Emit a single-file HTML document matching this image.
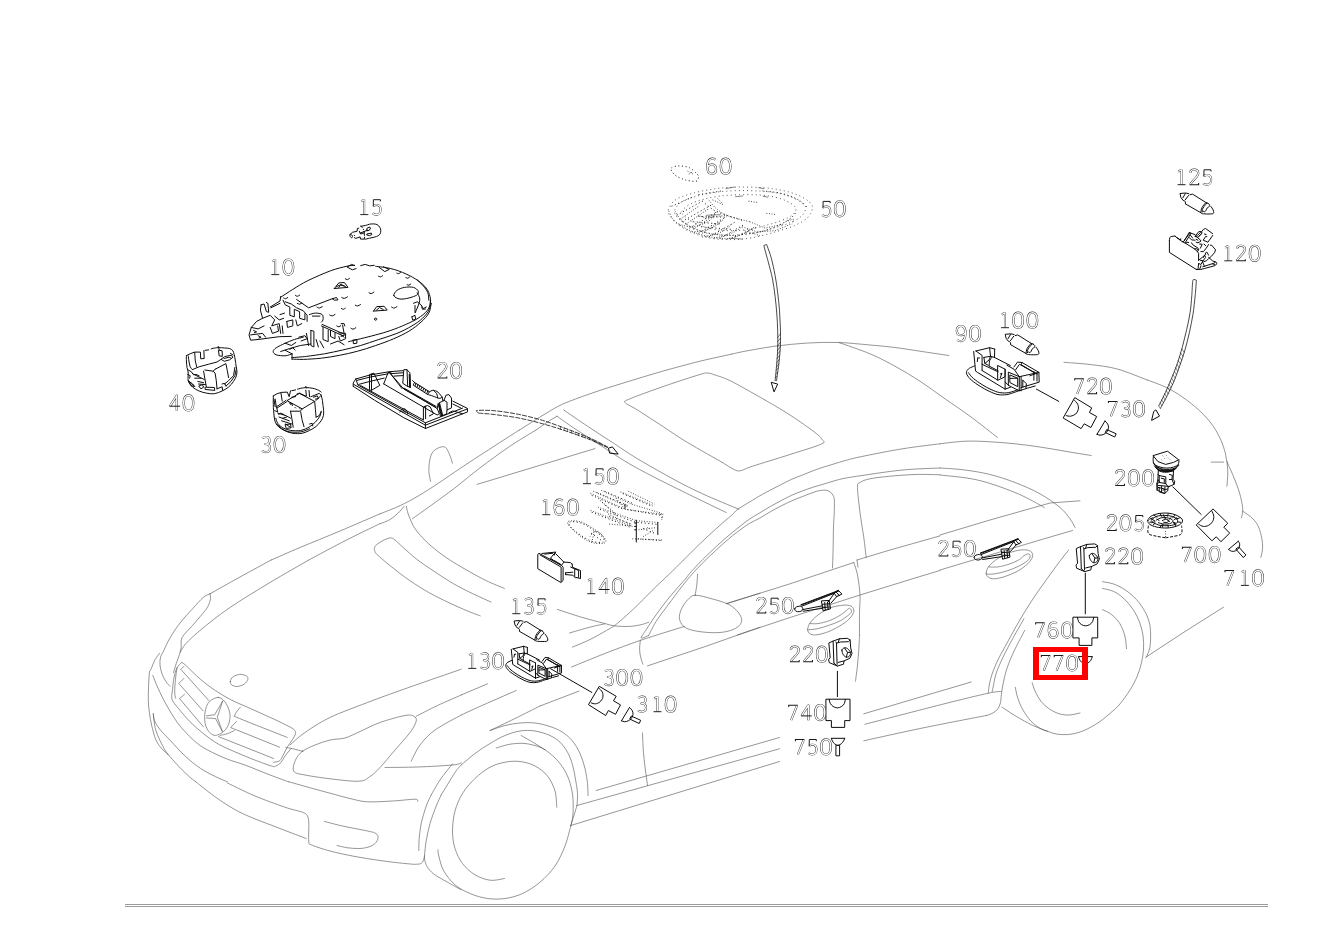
<!DOCTYPE html>
<html lang="en"><head><meta charset="utf-8"><title>Interior lights - parts diagram</title>
<style>
html,body{margin:0;padding:0;background:#fff;}
body{width:1326px;height:941px;overflow:hidden;font-family:"Liberation Sans",sans-serif;}
svg{display:block;position:absolute;left:0;top:0;}
.car{fill:none;stroke:#555;stroke-width:0.62;stroke-linecap:round;stroke-linejoin:round;}
.part{fill:none;stroke:#0c0c0c;stroke-width:1.0;stroke-linecap:round;stroke-linejoin:round;}
.partw{fill:#fff;stroke:#1c1c1c;stroke-width:0.9;stroke-linejoin:round;}
.thin{fill:none;stroke:#333;stroke-width:0.6;stroke-linecap:round;stroke-linejoin:round;}
.dot{fill:none;stroke:#222;stroke-width:0.9;stroke-dasharray:0.9 1.7;stroke-linecap:butt;}
.arr{fill:none;stroke:#0c0c0c;stroke-width:0.8;stroke-dasharray:5 1.2;}
.arrs{fill:none;stroke:#0c0c0c;stroke-width:0.75;}
.dot3{fill:none;stroke:#333;stroke-width:0.9;stroke-dasharray:0.9 3.2;}
.dot2{fill:none;stroke:#111;stroke-width:1.0;stroke-dasharray:1 2.6;}
.dash{fill:none;stroke:#0c0c0c;stroke-width:1.0;stroke-dasharray:3 1.5;}
.lead{fill:none;stroke:#222;stroke-width:0.9;}
.ho{fill:none;stroke:#1a1a1a;stroke-width:2.0;stroke-linecap:butt;stroke-linejoin:round;}
.hi{fill:none;stroke:#fff;stroke-width:1.3;stroke-linecap:butt;stroke-linejoin:round;}
.sd{fill:none;stroke:#1a1a1a;stroke-width:1.0;stroke-linecap:square;stroke-linejoin:miter;}
.dgo{fill:none;stroke:#555;stroke-width:2.3;stroke-linecap:square;stroke-linejoin:miter;}
.dgi{fill:none;stroke:#fff;stroke-width:1.25;stroke-linecap:square;stroke-linejoin:miter;}
</style></head><body>
<svg width="1326" height="941" viewBox="0 0 1326 941">
<rect x="0" y="0" width="1326" height="941" fill="#fff"/>
<g class="car">
<path d="M271.2,560.0 C266.0,562.8 250.2,571.4 240.0,577.0 C229.8,582.6 215.0,591.0 210.0,593.8"/>
<path d="M210.0,593.8 C210.1,594.6 210.8,596.7 210.5,598.8 C210.2,600.8 209.3,603.8 208.0,606.2 C206.7,608.8 205.1,610.5 202.5,613.8 C199.9,617.0 195.6,622.0 192.5,625.5 C189.4,629.0 185.6,632.5 183.8,635.0 C181.9,637.5 181.7,638.4 181.2,640.5 C180.8,642.6 181.5,645.6 181.2,647.5 C181.0,649.4 180.2,651.2 180.0,652.0"/>
<path d="M210.0,593.8 C208.9,594.4 206.2,595.0 203.2,597.5 C200.3,600.0 196.4,604.5 192.5,608.8 C188.6,613.0 183.8,618.1 180.0,623.0 C176.2,627.9 172.7,633.4 170.0,638.0 C167.3,642.6 165.3,647.2 163.8,650.5 C162.2,653.8 161.1,655.1 160.5,657.5 C159.9,659.9 159.8,662.3 160.0,665.0 C160.2,667.7 161.0,670.9 162.0,673.8 C163.0,676.6 164.9,679.9 166.2,682.0 C167.6,684.1 169.4,685.5 170.0,686.2"/>
<path d="M308.8,560.0 C302.3,563.8 283.1,574.6 270.0,582.5 C256.9,590.4 241.7,599.5 230.0,607.5 C218.3,615.5 207.7,624.0 200.0,630.5 C192.3,637.0 187.5,641.3 183.8,646.2 C180.0,651.2 179.2,655.6 177.5,660.0 C175.8,664.4 174.2,670.4 173.5,672.5"/>
<path d="M302.5,751.2 C299.2,753.8 297.0,756.7 295.5,760.0 C294.0,763.3 292.2,768.8 293.8,771.2 C295.3,773.8 299.0,773.8 305.0,775.0 C311.0,776.2 321.0,777.7 330.0,778.8 C339.0,779.8 352.1,781.6 358.8,781.2 C365.4,780.9 366.5,778.8 370.0,776.5 C373.5,774.2 375.8,771.9 380.0,767.5 C384.2,763.1 390.0,755.8 395.0,750.0 C400.0,744.2 406.5,737.3 410.0,732.5 C413.5,727.7 415.6,724.0 416.2,721.2 C416.9,718.5 415.6,717.2 413.8,716.2 C411.9,715.3 410.6,714.5 405.0,715.5 C399.4,716.5 387.5,719.8 380.0,722.5 C372.5,725.2 365.8,728.9 360.0,731.5 C354.2,734.1 350.0,736.6 345.0,738.0 C340.0,739.4 335.0,738.8 330.0,740.0 C325.0,741.2 319.6,743.1 315.0,745.0 C310.4,746.9 305.8,748.8 302.5,751.2Z"/>
<path d="M290.0,745.0 C292.5,742.9 298.3,737.1 305.0,732.5 C311.7,727.9 319.6,722.5 330.0,717.5 C340.4,712.5 355.0,707.3 367.5,702.5 C380.0,697.7 389.4,694.3 405.0,688.8 C420.6,683.2 451.9,672.5 461.2,669.2"/>
<path d="M416.2,716.2 C419.8,714.5 430.0,709.0 437.5,705.5 C445.0,702.0 457.3,696.8 461.2,695.0"/>
<path d="M411.2,761.2 C412.7,758.5 416.0,750.2 420.0,745.0 C424.0,739.8 428.1,735.0 435.0,730.0 C441.9,725.0 456.9,717.5 461.2,715.0"/>
<path d="M385.0,767.5 C390.4,767.4 406.2,767.4 417.5,767.0 C428.8,766.6 445.2,765.7 452.5,765.0 C459.8,764.3 459.8,763.3 461.2,763.0"/>
<path d="M431.2,795.0 C432.7,792.5 436.5,785.2 440.0,780.0 C443.5,774.8 450.4,766.5 452.5,763.8"/>
<path d="M441.2,795.0 C443.5,791.2 451.7,777.5 455.0,772.5 C458.3,767.5 460.2,766.2 461.2,765.0"/>
<path d="M181.5,662.6 C182.1,663.0 182.1,662.1 185.3,664.9 C188.4,667.7 195.3,675.0 200.4,679.2 C205.4,683.5 210.4,687.2 215.5,690.6 C220.5,694.0 225.5,697.0 230.6,699.6 C235.6,702.3 240.6,704.2 245.7,706.4 C250.7,708.7 255.7,710.9 260.8,713.2 C265.8,715.5 270.8,717.6 275.8,720.0 C280.9,722.4 287.8,725.8 290.9,727.5 C294.1,729.3 294.0,729.6 294.7,730.6 C295.5,731.6 295.8,732.1 295.5,733.6 C295.1,735.1 293.8,737.4 292.5,739.6 C291.1,741.9 288.7,744.7 287.2,747.2 C285.7,749.7 284.7,752.5 283.4,754.7 C282.1,757.0 281.3,759.5 279.6,760.8 C278.0,762.0 274.6,762.0 273.6,762.3"/>
<path d="M181.5,662.6 C180.8,663.5 178.2,665.4 177.0,667.9 C175.7,670.4 174.7,674.1 174.0,677.7 C173.2,681.4 172.8,686.5 172.5,689.8 C172.1,693.1 171.5,695.3 171.7,697.4 C171.9,699.4 172.3,700.2 173.5,702.2 C174.8,704.2 176.5,706.2 179.2,709.4 C182.0,712.7 185.8,717.5 189.8,721.5 C193.8,725.5 198.6,729.8 203.4,733.6 C208.2,737.4 212.7,740.9 218.5,744.2 C224.3,747.4 232.1,750.6 238.1,753.2 C244.2,755.8 249.2,757.9 254.7,760.0 C260.3,762.1 267.8,765.0 271.3,766.0 C274.8,767.0 274.2,766.7 275.8,766.0 C277.5,765.4 279.6,763.9 281.1,762.3 C282.6,760.6 283.3,758.5 284.9,756.2 C286.5,754.0 289.9,749.9 290.9,748.7"/>
<path d="M177.0,667.9 C176.7,669.8 175.8,675.3 175.5,679.2 C175.1,683.1 174.7,688.2 174.7,691.3 C174.7,694.5 175.3,697.0 175.5,698.1"/>
<path d="M183.8,666.4 L180.8,669.4 L208.7,700.4"/>
<path d="M183.8,678.5 L178.8,683.5 L203.1,710.9"/>
<path d="M184.5,694.3 L179.5,698.6 L203.4,726.8"/>
<path d="M240.4,707.2 C239.4,708.5 234.9,713.3 234.8,715.2 C234.7,717.1 230.9,714.8 239.6,718.5 C248.4,722.2 279.2,734.2 287.2,737.4"/>
<path d="M236.6,721.5 L230.6,727.5 L279.6,747.2"/>
<path d="M218.5,736.6 L273.6,758.5"/>
<path d="M220.0,735.4 C221.3,735.1 225.2,734.4 227.5,733.6 C229.9,732.8 233.2,731.1 234.3,730.6"/>
<path d="M218.2,697.4 C221.2,697.4 224.1,700.3 226.0,703.4 C228.0,706.5 230.1,711.9 230.1,716.2 C230.1,720.5 228.5,725.9 226.0,729.1 C223.5,732.3 218.3,735.4 215.2,735.4 C212.0,735.4 208.9,732.1 207.2,729.1 C205.4,726.0 204.5,721.3 204.6,717.0 C204.7,712.7 205.7,706.7 207.9,703.4 C210.2,700.1 215.2,697.4 218.2,697.4Z"/>
<path d="M222.7,701.1 L214.7,714.7 L206.4,715.9"/>
<path d="M222.7,701.1 L217.3,717.3 L222.3,731.3"/>
<path d="M206.4,718.0 L215.5,718.5 L222.3,731.3"/>
<path d="M230.3,681.5 C230.4,680.2 231.3,678.2 232.8,677.0 C234.4,675.8 237.4,674.6 239.6,674.4 C241.9,674.2 245.1,675.1 246.4,675.9 C247.8,676.8 248.2,678.2 247.8,679.5 C247.4,680.9 245.9,682.9 244.2,684.1 C242.4,685.2 239.4,686.3 237.4,686.5 C235.3,686.6 233.0,685.8 231.8,685.0 C230.6,684.2 230.1,682.8 230.3,681.5Z"/>
<path d="M285.7,747.5 C286.8,747.7 289.6,748.0 292.5,748.7 C295.3,749.3 301.3,750.9 303.0,751.4"/>
<path d="M159.6,653.3 C158.9,654.3 156.6,656.9 155.1,659.6 C153.6,662.3 151.8,667.4 150.9,669.4 C149.9,671.5 149.9,669.4 149.5,672.0 C149.1,674.6 148.8,680.6 148.6,685.3 C148.4,690.0 148.2,695.8 148.3,700.4 C148.4,704.9 148.8,708.2 149.4,712.5 C149.9,716.7 150.7,721.5 151.8,726.0 C152.9,730.6 154.3,736.0 155.8,739.6 C157.4,743.3 159.1,745.5 161.1,747.9 C163.1,750.4 166.8,753.2 167.9,754.3"/>
<path d="M152.8,675.5 C153.7,677.6 155.8,683.4 158.1,688.3 C160.4,693.2 163.1,699.1 166.4,704.9 C169.7,710.7 173.8,717.7 177.7,723.0 C181.6,728.3 186.0,732.8 189.8,736.6 C193.6,740.4 196.6,743.0 200.4,745.7 C204.2,748.3 207.9,750.2 212.5,752.5 C217.0,754.7 222.0,757.1 227.5,759.2 C233.1,761.4 238.9,762.8 245.7,765.3 C252.5,767.8 261.1,771.6 268.3,774.3 C275.5,777.1 285.3,780.6 288.7,781.9"/>
<path d="M153.3,713.7 C153.5,714.7 153.3,717.4 154.3,720.0 C155.4,722.6 157.0,725.7 159.6,729.1 C162.3,732.5 165.9,735.8 170.2,740.4 C174.5,744.9 180.3,751.6 185.3,756.2 C190.3,760.9 195.3,764.9 200.4,768.3 C205.4,771.7 210.9,774.3 215.5,776.6 C220.0,778.9 225.5,781.0 227.5,781.9"/>
<path d="M153.3,713.7 C153.6,716.0 154.2,723.5 155.1,727.5 C156.0,731.6 157.4,734.6 158.9,738.1 C160.4,741.6 162.6,746.0 164.2,748.7 C165.7,751.4 167.3,753.3 167.9,754.3"/>
<path d="M167.9,754.3 C169.6,756.1 174.3,761.7 177.7,765.3 C181.1,768.9 185.3,773.1 188.3,775.8 C191.3,778.6 194.6,780.9 195.8,781.9"/>
<path d="M288.8,781.8 C293.5,783.1 307.3,787.0 317.5,789.8 C327.7,792.5 341.7,796.5 350.0,798.5 C358.3,800.5 360.4,801.3 367.5,801.8 C374.6,802.2 384.6,801.4 392.5,801.0 C400.4,800.6 410.8,799.2 415.0,799.2 C419.2,799.3 417.1,801.1 417.5,801.5"/>
<path d="M227.5,783.0 C232.1,785.2 245.4,792.0 255.0,796.0 C264.6,800.0 277.1,804.5 285.0,807.2 C292.9,810.0 298.8,810.8 302.5,812.2 C306.2,813.7 306.5,814.1 307.5,816.0 C308.5,817.9 308.5,819.3 308.8,823.5 C309.0,827.7 308.3,837.5 308.8,841.0 C309.2,844.5 307.7,843.1 311.2,844.8 C314.8,846.4 322.7,849.0 330.0,851.0 C337.3,853.0 346.7,854.9 355.0,856.5 C363.3,858.1 371.7,859.3 380.0,860.5 C388.3,861.7 398.8,862.9 405.0,863.5 C411.2,864.1 414.6,864.5 417.5,864.2 C420.4,864.0 421.3,863.6 422.5,862.2 C423.7,860.9 424.2,857.0 424.5,856.0"/>
<path d="M195.8,781.8 C199.4,784.5 209.7,793.2 217.5,798.5 C225.3,803.8 232.1,808.5 242.5,813.5 C252.9,818.5 269.4,824.3 280.0,828.5 C290.6,832.7 301.9,836.8 306.2,838.5"/>
<path d="M324.5,821.5 C327.5,822.2 335.3,824.4 342.5,826.0 C349.7,827.6 362.1,829.8 367.5,831.0 C372.9,832.2 373.2,832.1 375.0,833.0 C376.8,833.9 377.8,835.0 378.0,836.5 C378.2,838.0 377.6,840.6 376.2,842.2 C374.9,843.9 372.7,845.5 370.0,846.5 C367.3,847.5 363.8,848.3 360.0,848.5 C356.2,848.7 351.3,848.2 347.5,847.8 C343.7,847.2 338.8,845.9 337.0,845.5"/>
<path d="M431.2,795.0 C430.4,796.8 427.9,801.2 426.2,806.0 C424.6,810.8 422.4,818.1 421.2,823.5 C420.1,828.9 419.7,834.0 419.2,838.5 C418.8,843.0 418.8,848.5 418.8,850.5"/>
<path d="M441.2,795.0 C440.4,796.8 438.1,801.2 436.2,806.0 C434.4,810.8 431.7,817.7 430.0,823.5 C428.3,829.3 427.2,835.6 426.2,841.0 C425.3,846.4 424.7,852.7 424.5,856.0 C424.3,859.3 424.5,859.1 425.0,861.0 C425.5,862.9 426.0,865.1 427.5,867.2 C429.0,869.4 430.4,871.5 433.8,874.0 C437.1,876.5 442.9,879.6 447.5,882.2 C452.1,884.9 459.0,888.5 461.2,889.8"/>
<path d="M271.2,560.0 C276.0,557.9 288.5,552.3 300.0,547.5 C311.5,542.7 326.7,536.6 340.0,531.0 C353.3,525.4 373.3,516.7 380.0,513.8"/>
<path d="M308.8,560.0 C313.1,557.7 326.5,550.5 335.0,546.0 C343.5,541.5 352.5,537.0 360.0,533.3 C367.5,529.6 376.7,525.3 380.0,523.7"/>
<path d="M461.2,695.0 L487.5,683.8"/>
<path d="M461.2,715.0 C464.0,713.8 468.3,711.6 477.5,707.5 C486.7,703.4 509.8,693.3 516.2,690.5"/>
<path d="M380.0,513.8 C382.8,512.7 391.1,509.6 396.6,507.2 C402.1,504.7 406.8,502.5 413.2,498.9 C419.5,495.3 426.5,491.0 434.8,485.6 C443.0,480.2 452.7,473.3 463.0,466.5 C473.2,459.7 486.7,451.0 496.1,444.9 C505.5,438.8 515.5,432.5 519.4,430.0"/>
<path d="M380.0,523.7 C381.7,523.1 386.9,521.4 390.0,519.6 C393.0,517.8 395.9,515.2 398.3,513.0 C400.6,510.7 403.1,507.4 404.1,506.3"/>
<path d="M412.4,518.8 C415.3,516.7 422.7,511.4 429.8,506.3 C436.8,501.2 446.4,494.4 454.7,488.1 C463.0,481.7 470.4,475.1 479.6,468.2 C488.7,461.2 500.0,453.0 509.4,446.6 C518.8,440.2 531.5,432.8 536.0,430.0"/>
<path d="M430.6,481.4 C430.3,479.8 429.1,475.1 428.9,471.5 C428.8,467.9 429.1,463.2 429.8,459.9 C430.5,456.5 431.4,453.6 433.1,451.6 C434.8,449.5 437.7,448.1 439.7,447.4 C441.8,446.7 443.9,446.2 445.5,447.4 C447.2,448.7 448.5,452.3 449.7,454.9 C450.8,457.5 452.0,461.8 452.5,463.2"/>
<path d="M477.1,484.4 L594.9,448.6"/>
<path d="M557.4,609.4 C561.4,610.7 573.9,615.0 581.5,617.2 C589.1,619.5 597.5,621.6 603.0,623.0 C608.6,624.5 610.2,625.3 614.7,625.9 C619.1,626.4 625.2,626.6 629.6,626.4 C634.0,626.2 638.0,625.4 641.2,624.7 C644.4,624.0 647.4,622.6 648.7,622.2"/>
<path d="M569.5,633.0 C572.9,632.0 583.9,628.7 589.8,627.2 C595.6,625.7 602.2,624.4 604.7,623.9"/>
<path d="M572.4,647.1 C575.3,645.9 584.1,642.4 589.8,639.6 C595.4,636.9 602.2,632.9 606.4,630.5 C610.5,628.2 611.3,628.0 614.7,625.5 C618.0,623.0 622.1,619.3 626.3,615.6 C630.4,611.9 634.6,608.0 639.6,603.1 C644.5,598.3 650.6,591.9 656.1,586.5 C661.7,581.2 668.2,575.2 672.7,570.8 C677.3,566.4 681.7,561.8 683.5,560.0"/>
<path d="M648.7,635.5 C647.4,635.9 641.6,639.0 641.2,638.0 C640.8,637.0 643.7,633.6 646.2,629.7 C648.7,625.8 652.3,620.1 656.1,614.8 C660.0,609.4 664.4,603.4 669.4,597.3 C674.4,591.2 683.2,581.4 686.0,578.3"/>
<path d="M648.7,635.5 C649.9,633.1 652.7,626.8 656.1,621.4 C659.6,616.0 667.2,606.2 669.4,603.1"/>
<path d="M571.5,667.0 C577.3,664.7 594.8,657.4 606.4,652.9 C618.0,648.4 628.2,644.6 641.2,640.1 C654.2,635.7 677.2,628.7 684.4,626.4"/>
<path d="M640.4,640.1 C640.2,641.7 639.5,646.6 639.6,649.6 C639.6,652.6 640.3,655.5 640.9,657.9 C641.4,660.3 642.5,663.1 642.9,664.2"/>
<path d="M647.5,665.9 L705.9,646.3 L760.0,627.2"/>
<path d="M695.1,595.2 C691.0,595.3 689.9,597.7 687.7,599.8 C685.5,602.0 683.2,605.4 681.9,608.1 C680.5,610.9 679.5,613.9 679.4,616.4 C679.2,618.9 679.9,621.1 681.0,623.0 C682.1,625.0 683.2,626.6 686.0,628.0 C688.8,629.4 692.9,630.6 697.6,631.3 C702.3,632.1 709.2,632.7 714.2,632.7 C719.2,632.7 723.6,632.3 727.5,631.3 C731.4,630.4 735.1,628.9 737.4,627.2 C739.8,625.5 741.2,623.5 741.6,621.4 C742.0,619.3 741.2,617.0 739.9,614.8 C738.7,612.5 736.3,610.0 734.1,608.1 C731.9,606.2 730.3,605.0 726.7,603.5 C723.1,602.0 717.8,600.4 712.6,599.0 C707.3,597.6 699.3,595.0 695.1,595.2Z"/>
<path d="M697.6,574.1 C697.5,575.9 697.2,581.4 696.8,584.9 C696.4,588.4 695.4,593.5 695.1,595.2"/>
<path d="M726.7,603.5 L760.0,593.2"/>
<path d="M540.0,706.0 L579.0,691.1"/>
<path d="M406.3,506.2 C406.6,507.4 407.2,511.1 408.0,513.4 C408.7,515.7 409.5,517.5 410.6,520.0 C411.7,522.5 412.7,525.3 414.8,528.3 C416.8,531.3 419.7,534.8 423.0,538.3 C426.4,541.7 430.2,545.4 434.7,549.0 C439.1,552.6 444.3,556.4 449.6,559.8 C454.9,563.3 460.1,566.3 466.2,569.8 C472.3,573.2 479.7,577.5 486.1,580.6 C492.5,583.7 501.3,587.1 504.4,588.4"/>
<path d="M491.1,602.1 C486.9,600.2 473.1,594.0 466.2,590.5 C459.3,587.1 455.1,584.7 449.6,581.4 C444.1,578.1 438.5,574.3 433.0,570.6 C427.5,566.9 421.4,562.9 416.4,559.0 C411.4,555.1 406.7,550.6 403.1,547.4 C399.5,544.2 396.9,541.5 394.8,539.9 C392.8,538.3 392.4,538.0 390.7,537.9 C389.0,537.9 387.1,538.6 384.9,539.6 C382.7,540.6 379.1,542.8 377.4,544.1 C375.7,545.4 375.0,546.1 374.6,547.4 C374.2,548.6 374.3,550.1 374.9,551.5 C375.5,552.9 375.2,552.9 378.3,555.7 C381.3,558.4 387.9,564.0 393.2,568.1 C398.4,572.3 403.7,576.4 409.8,580.6 C415.9,584.7 423.0,589.3 429.7,593.0 C436.3,596.7 443.5,600.1 449.6,603.0 C455.7,605.9 461.1,608.3 466.2,610.4 C471.3,612.6 477.9,615.0 480.3,615.9"/>
<path d="M940.0,443.8 C944.2,443.3 956.7,441.6 965.0,441.2 C973.3,440.9 981.7,441.3 990.0,441.8 C998.3,442.2 1006.7,442.9 1015.0,443.8 C1023.3,444.6 1031.7,445.8 1040.0,447.0 C1048.3,448.2 1056.5,449.8 1065.0,451.2 C1073.5,452.7 1086.9,454.8 1091.2,455.5"/>
<path d="M940.0,468.0 C944.2,468.3 956.7,468.9 965.0,470.0 C973.3,471.1 981.7,472.4 990.0,474.5 C998.3,476.6 1006.7,479.3 1015.0,482.5 C1023.3,485.7 1032.5,489.6 1040.0,493.8 C1047.5,497.9 1055.0,503.3 1060.0,507.5 C1065.0,511.7 1067.5,515.4 1070.0,518.8 C1072.5,522.1 1074.2,526.0 1075.0,527.5"/>
<path d="M940.0,475.0 C946.2,475.8 965.0,477.1 977.5,480.0 C990.0,482.9 1004.6,488.3 1015.0,492.5 C1025.4,496.7 1035.1,502.4 1040.0,505.0 C1044.9,507.6 1043.8,507.5 1044.5,508.0"/>
<path d="M940.0,535.0 L990.0,520.0 L1050.0,503.0 L1080.0,500.8"/>
<path d="M940.0,570.0 L990.0,555.0 L1040.0,540.0 L1072.5,530.5"/>
<path d="M1147.3,380.0 C1150.5,381.2 1160.5,384.6 1166.4,387.5 C1172.4,390.4 1177.5,393.5 1183.0,397.4 C1188.5,401.3 1194.6,406.0 1199.6,410.7 C1204.6,415.4 1209.2,420.6 1212.8,425.6 C1216.4,430.6 1219.0,436.0 1221.1,440.6 C1223.2,445.2 1224.3,449.6 1225.3,453.0 C1226.3,456.4 1225.7,457.7 1226.9,461.3 C1228.1,464.9 1230.8,469.9 1232.7,474.6 C1234.6,479.3 1237.0,484.8 1238.5,489.5 C1240.0,494.2 1241.2,499.2 1241.9,502.8 C1242.6,506.4 1242.8,508.6 1242.7,511.1 C1242.6,513.6 1241.6,516.6 1241.4,517.7"/>
<path d="M1226.9,461.3 C1227.1,463.2 1227.8,468.8 1227.8,472.9 C1227.8,477.0 1227.1,484.0 1226.9,486.2"/>
<path d="M1211.2,462.1 L1223.6,462.1"/>
<path d="M1242.7,511.1 C1244.3,512.3 1250.0,515.9 1252.6,518.5 C1255.2,521.1 1257.0,523.5 1258.5,526.8 C1260.0,530.1 1261.1,534.7 1261.8,538.3 C1262.5,541.9 1262.8,545.0 1262.6,548.2 C1262.4,551.4 1261.2,555.8 1260.9,557.3"/>
<path d="M1102.5,581.7 C1104.3,582.1 1109.6,582.6 1113.3,583.9 C1117.0,585.2 1121.0,587.1 1124.9,589.7 C1128.8,592.3 1133.2,596.0 1136.5,599.6 C1139.8,603.2 1142.6,607.4 1144.8,611.3 C1147.0,615.2 1148.4,619.0 1149.4,622.9 C1150.4,626.8 1150.5,630.4 1150.6,634.5 C1150.7,638.6 1150.5,644.1 1149.8,647.8 C1149.1,651.5 1147.0,655.4 1146.5,656.9"/>
<path d="M1102.5,588.4 C1104.3,588.9 1109.8,589.7 1113.3,591.3 C1116.8,592.9 1119.9,595.0 1123.2,598.0 C1126.5,601.0 1130.4,605.5 1133.2,609.6 C1136.0,613.8 1138.2,618.5 1139.8,622.9 C1141.4,627.3 1142.5,631.7 1143.1,636.1 C1143.7,640.5 1143.8,645.0 1143.5,649.4 C1143.2,653.8 1142.5,658.3 1141.5,662.7 C1140.5,667.1 1139.2,671.5 1137.3,676.0 C1135.4,680.5 1132.9,685.4 1130.0,690.0 C1127.1,694.6 1122.9,700.4 1120.0,703.9 C1117.1,707.4 1115.9,708.3 1112.4,711.3 C1108.9,714.3 1103.8,718.9 1099.1,722.1 C1094.4,725.3 1088.9,728.4 1084.2,730.4 C1079.5,732.4 1075.3,733.6 1070.9,734.2 C1066.5,734.8 1061.5,734.7 1057.6,734.2 C1053.7,733.7 1051.8,732.8 1047.7,731.3 C1043.6,729.8 1038.0,727.9 1032.7,725.4 C1027.4,722.9 1021.2,719.3 1016.1,716.3 C1011.0,713.3 1004.4,708.7 1002.0,707.2"/>
<path d="M1102.5,609.6 C1104.0,610.4 1108.7,612.2 1111.6,614.6 C1114.5,617.0 1117.7,620.1 1119.9,623.7 C1122.1,627.3 1123.8,632.0 1124.9,636.1 C1126.0,640.2 1126.2,646.5 1126.5,648.6"/>
<path d="M1145.6,657.4 L1183.0,632.8 L1223.6,607.1"/>
<path d="M1068.7,550.0 C1067.2,551.9 1063.3,556.6 1059.6,561.6 C1055.9,566.6 1051.0,573.2 1046.3,579.8 C1041.6,586.4 1036.0,594.2 1031.3,601.4 C1026.6,608.6 1022.4,615.6 1018.1,623.0 C1013.8,630.4 1008.8,639.8 1005.4,646.0 C1002.0,652.2 1000.1,655.3 997.9,660.0 C995.7,664.7 993.5,669.9 992.1,674.0 C990.7,678.1 989.9,681.7 989.3,684.8 C988.7,687.9 988.5,691.5 988.3,692.8"/>
<path d="M1023.9,618.8 C1022.1,622.0 1016.6,631.5 1013.1,637.9 C1009.6,644.3 1005.9,651.1 1003.1,657.0 C1000.3,662.9 997.9,668.0 996.2,673.2 C994.5,678.4 993.6,685.0 992.9,688.1 C992.2,691.2 992.2,691.2 992.1,691.8"/>
<path d="M1024.7,630.4 C1023.1,633.6 1017.8,643.2 1014.8,649.5 C1011.8,655.8 1009.0,662.3 1007.0,668.2 C1005.0,674.1 1003.9,680.1 1002.9,684.8 C1001.9,689.5 1001.6,693.4 1001.2,696.4 C1000.8,699.4 1001.0,700.9 1000.4,703.0 C999.8,705.1 999.1,707.2 997.9,708.9 C996.6,710.6 994.8,711.9 992.9,713.0 C991.0,714.1 987.4,715.1 986.3,715.5"/>
<path d="M863.8,713.8 L971.2,682.0"/>
<path d="M865.0,724.2 C877.8,721.0 921.0,709.7 941.5,704.5 C962.0,699.3 978.3,695.4 988.3,693.2 C998.2,691.0 999.1,691.8 1001.2,691.5"/>
<path d="M863.8,740.8 C874.0,738.5 904.6,731.7 925.0,727.5 C945.4,723.3 976.1,717.5 986.3,715.5"/>
<path d="M1015.3,687.3 C1015.7,689.1 1016.5,694.4 1017.8,698.1 C1019.0,701.8 1020.6,705.8 1022.8,709.7 C1025.0,713.6 1028.1,718.1 1031.1,721.3 C1034.1,724.5 1038.2,727.1 1041.0,728.8 C1043.8,730.5 1046.6,730.9 1047.7,731.3"/>
<path d="M1032.2,682.8 C1032.7,684.2 1033.7,688.3 1035.2,691.4 C1036.7,694.5 1038.7,698.5 1041.0,701.4 C1043.3,704.3 1046.2,706.8 1049.3,708.9 C1052.3,711.0 1056.0,712.8 1059.3,713.8 C1062.6,714.8 1065.8,715.1 1069.2,715.0 C1072.7,714.9 1078.2,713.3 1080.0,713.0"/>
<path d="M986.2,573.2 C986.3,571.4 986.9,568.8 988.8,566.4 C990.8,563.9 994.5,560.7 997.9,558.5 C1001.3,556.2 1005.4,554.2 1009.2,552.8 C1013.0,551.4 1017.3,550.4 1020.5,550.0 C1023.7,549.6 1026.4,549.8 1028.4,550.3 C1030.4,550.9 1031.8,552.0 1032.4,553.4 C1032.9,554.7 1032.8,556.5 1031.8,558.5 C1030.8,560.4 1028.8,563.0 1026.2,565.2 C1023.5,567.5 1019.6,570.2 1016.0,572.0 C1012.4,573.9 1008.2,575.4 1004.7,576.6 C1001.1,577.7 997.2,578.7 994.5,578.8 C991.7,578.9 989.6,578.1 988.3,577.1 C986.9,576.2 986.1,575.0 986.2,573.2Z"/>
<path d="M988.8,566.9 C990.3,566.9 994.5,567.4 997.9,566.9 C1001.3,566.5 1005.6,565.3 1009.2,564.1 C1012.8,562.9 1016.9,561.0 1019.4,559.6 C1021.8,558.2 1022.4,556.6 1023.9,555.6 C1025.4,554.7 1027.4,553.8 1028.4,553.9 C1029.5,554.0 1030.4,555.1 1030.2,556.2 C1030.1,557.3 1029.5,559.0 1027.5,560.7 C1025.5,562.4 1021.7,564.7 1018.2,566.4 C1014.8,568.1 1010.7,569.7 1006.9,570.9 C1003.2,572.1 998.9,573.2 995.6,573.7 C992.3,574.3 988.5,574.2 987.1,574.3"/>
<path d="M731.2,354.2 C733.5,353.8 737.7,352.6 745.0,351.2 C752.3,349.9 764.6,347.6 775.0,346.2 C785.4,344.9 796.9,343.6 807.5,343.0 C818.1,342.4 828.3,342.2 838.8,342.5 C849.2,342.8 860.6,344.2 870.0,345.0 C879.4,345.8 886.7,346.5 895.0,347.5 C903.3,348.5 911.0,349.9 920.0,351.2 C929.0,352.6 944.0,354.8 948.8,355.5"/>
<path d="M838.8,342.5 C844.0,344.4 860.6,349.8 870.0,353.8 C879.4,357.7 886.7,361.7 895.0,366.2 C903.3,370.8 911.7,375.8 920.0,381.2 C928.3,386.7 936.7,392.9 945.0,398.8 C953.3,404.6 961.2,409.8 970.0,416.2 C978.8,422.7 992.9,434.0 997.5,437.5"/>
<path d="M1064.0,362.3 C1068.3,362.7 1081.1,363.4 1090.0,364.5 C1098.9,365.6 1107.8,366.4 1117.3,369.0 C1126.8,371.6 1142.3,378.2 1147.3,380.0"/>
<path d="M859.5,635.0 C859.4,637.5 859.1,645.0 858.8,650.0 C858.4,655.0 858.0,659.8 857.5,665.0 C857.0,670.2 855.8,678.5 855.5,681.2"/>
<path d="M519.5,430.0 C523.8,427.3 537.8,418.3 545.0,414.0 C552.2,409.7 555.0,407.6 562.5,404.2 C570.0,400.9 579.6,397.4 590.0,393.8 C600.4,390.1 612.9,386.2 625.0,382.5 C637.1,378.8 650.0,374.8 662.5,371.2 C675.0,367.7 688.5,364.1 700.0,361.2 C711.5,358.4 726.0,355.4 731.2,354.2"/>
<path d="M536.0,430.0 C537.9,428.7 544.0,424.3 547.5,422.0 C551.0,419.7 555.4,417.2 557.0,416.2"/>
<path d="M557.0,416.2 C560.0,418.3 567.8,424.0 575.0,428.8 C582.2,433.5 591.7,439.6 600.0,445.0 C608.3,450.4 616.7,456.2 625.0,461.2 C633.3,466.2 639.6,469.6 650.0,475.0 C660.4,480.4 674.8,487.5 687.5,493.8 C700.2,500.0 719.8,509.4 726.2,512.5"/>
<path d="M563.8,410.0 C567.7,412.7 579.4,420.8 587.5,426.2 C595.6,431.7 604.2,437.1 612.5,442.5 C620.8,447.9 627.1,452.5 637.5,458.8 C647.9,465.0 664.2,474.2 675.0,480.0 C685.8,485.8 691.9,488.9 702.5,493.8 C713.1,498.6 732.7,506.7 738.8,509.2"/>
<path d="M765.0,400.0 C759.4,396.9 739.6,385.4 731.2,381.2 C722.9,377.1 719.0,376.4 715.0,375.0 C711.0,373.6 710.0,373.1 707.5,373.0 C705.0,372.9 705.4,372.9 700.0,374.5 C694.6,376.1 683.3,379.7 675.0,382.5 C666.7,385.3 657.5,388.5 650.0,391.2 C642.5,394.0 634.2,396.9 630.0,398.8 C625.8,400.6 623.8,400.6 625.0,402.5 C626.2,404.4 631.2,406.0 637.5,410.0 C643.8,414.0 654.2,420.8 662.5,426.2 C670.8,431.7 677.5,436.5 687.5,442.5 C697.5,448.5 716.7,459.2 722.5,462.5"/>
<path d="M765.0,400.0 C769.2,402.5 781.7,409.6 790.0,415.0 C798.3,420.4 809.7,428.4 815.0,432.5 C820.3,436.6 820.9,437.6 822.0,439.5 C823.1,441.4 826.8,441.5 821.5,444.0 C816.2,446.5 801.5,450.8 790.0,454.5 C778.5,458.2 760.6,463.6 752.5,466.2 C744.4,468.9 744.2,469.9 741.2,470.5 C738.3,471.1 738.1,471.3 735.0,470.0 C731.9,468.7 724.6,463.8 722.5,462.5"/>
<path d="M866.2,557.5 C865.8,554.2 864.8,545.0 863.8,537.5 C862.7,530.0 861.0,520.8 860.0,512.5 C859.0,504.2 857.5,492.5 857.5,487.5 C857.5,482.5 857.9,484.0 860.0,482.5 C862.1,481.0 865.0,479.8 870.0,478.8 C875.0,477.7 882.5,477.0 890.0,476.2 C897.5,475.5 906.7,474.8 915.0,474.5 C923.3,474.2 935.8,474.7 940.0,474.8"/>
<path d="M726.2,603.8 L790.0,583.8 L853.8,562.5"/>
<path d="M857.0,560.0 L890.0,550.0 L940.0,535.9"/>
<path d="M853.8,562.5 C854.4,564.6 856.5,569.6 857.5,575.0 C858.5,580.4 859.7,588.8 860.0,595.0 C860.3,601.2 859.6,605.8 859.5,612.5 C859.4,619.2 859.5,631.2 859.5,635.0"/>
<path d="M857.0,560.0 L858.0,567.0"/>
<path d="M737.5,635.0 L790.0,617.5 L860.0,595.0 L915.0,578.0 L940.0,570.5"/>
<path d="M807.7,629.8 C807.7,628.0 808.3,625.4 810.0,623.0 C811.7,620.5 814.7,617.5 817.9,615.1 C821.1,612.6 825.4,609.9 829.2,608.3 C833.0,606.7 837.1,605.9 840.5,605.5 C843.9,605.0 847.4,604.9 849.5,605.5 C851.7,606.0 852.9,607.4 853.5,608.8 C854.1,610.3 854.0,612.0 852.9,613.9 C851.9,615.9 849.9,618.5 847.3,620.7 C844.6,623.0 840.7,625.5 837.1,627.5 C833.5,629.5 829.4,631.4 825.8,632.6 C822.2,633.8 818.3,634.7 815.6,634.9 C813.0,635.1 811.3,634.6 810.0,633.7 C808.6,632.9 807.7,631.6 807.7,629.8Z"/>
<path d="M810.0,623.6 C811.3,623.6 814.7,624.0 817.9,623.6 C821.1,623.1 825.4,622.1 829.2,620.7 C833.0,619.3 837.5,616.9 840.5,615.1 C843.5,613.2 845.8,610.8 847.3,609.6 C848.8,608.5 848.9,608.2 849.5,608.3 C850.2,608.4 851.3,609.4 851.4,610.3 C851.5,611.2 851.9,612.0 850.1,613.7 C848.3,615.4 844.0,618.8 840.5,620.7 C837.0,622.6 833.0,623.9 829.2,625.2 C825.4,626.6 821.3,627.9 817.9,628.6 C814.5,629.4 810.3,629.6 808.8,629.8"/>
<path d="M683.5,560.0 C684.6,558.9 687.5,556.1 690.0,553.6 C692.5,551.1 695.7,547.9 698.5,545.1 C701.3,542.3 704.2,539.6 707.0,537.0 C709.8,534.4 712.7,531.8 715.5,529.3 C718.3,526.8 721.2,524.2 724.0,521.7 C726.8,519.2 730.2,516.5 732.5,514.5 C734.8,512.5 734.2,511.8 737.6,509.4 C741.0,507.0 749.2,502.3 752.9,500.0 C756.6,497.7 757.0,497.4 760.0,495.7 C763.0,494.0 767.1,491.8 770.6,489.9 C774.1,488.0 777.8,486.3 781.3,484.5 C784.8,482.7 788.4,480.8 791.9,479.2 C795.4,477.6 799.0,476.4 802.5,475.0 C806.0,473.6 809.6,472.0 813.1,470.7 C816.6,469.4 820.2,468.1 823.8,467.0 C827.3,465.9 830.9,464.9 834.4,463.8 C837.9,462.7 840.7,461.8 845.0,460.6 C849.3,459.5 850.4,458.9 860.0,456.9 C869.6,454.9 889.2,450.9 902.5,448.8 C915.8,446.6 933.8,444.6 940.0,443.8"/>
<path d="M686.0,578.3 C686.7,577.4 687.9,575.5 690.0,573.1 C692.1,570.7 695.7,566.8 698.5,563.8 C701.3,560.8 704.2,558.1 707.0,555.3 C709.8,552.5 712.7,549.8 715.5,547.2 C718.3,544.6 721.2,542.0 724.0,539.5 C726.8,537.0 729.7,534.6 732.5,532.3 C735.3,530.0 738.2,527.7 741.0,525.5 C743.8,523.3 746.3,521.2 749.5,519.1 C752.7,517.0 756.5,514.8 760.0,512.7 C763.5,510.6 767.1,508.3 770.6,506.3 C774.1,504.3 777.8,502.4 781.3,500.5 C784.8,498.6 788.4,496.8 791.9,495.2 C795.4,493.6 799.0,492.2 802.5,490.9 C806.0,489.6 809.6,488.3 813.1,487.2 C816.6,486.1 820.2,485.1 823.8,484.0 C827.3,482.9 830.9,481.8 834.4,480.8 C837.9,479.8 840.7,479.0 845.0,478.2 C849.3,477.4 850.4,477.2 860.0,475.8 C869.6,474.4 889.2,471.3 902.5,470.0 C915.8,468.7 933.8,468.3 940.0,468.0"/>
<path d="M669.4,603.1 C671.2,600.8 676.6,593.4 680.0,589.0 C683.4,584.6 686.9,580.1 690.0,576.5 C693.1,572.9 695.7,570.2 698.5,567.2 C701.3,564.2 704.2,561.5 707.0,558.7 C709.8,555.9 712.7,553.2 715.5,550.6 C718.3,548.0 721.2,545.4 724.0,542.9 C726.8,540.4 729.7,538.0 732.5,535.7 C735.3,533.4 738.2,531.3 741.0,529.3 C743.8,527.2 746.3,525.3 749.5,523.4 C752.7,521.5 756.5,520.0 760.0,518.0 C763.5,516.0 767.1,513.6 770.6,511.6 C774.1,509.6 777.8,507.6 781.3,505.8 C784.8,504.0 788.4,502.4 791.9,500.8 C795.4,499.2 799.0,497.9 802.5,496.5 C806.0,495.1 810.3,493.5 813.1,492.5 C815.9,491.5 817.4,491.0 819.5,490.6 C821.6,490.2 824.1,490.0 825.9,490.2 C827.7,490.4 828.9,491.1 830.1,492.0 C831.3,492.9 832.6,494.2 833.3,495.7 C834.0,497.2 834.2,498.0 834.4,501.0 C834.5,504.0 834.4,509.5 834.2,513.8 C834.1,518.0 833.7,520.5 833.5,526.5 C833.3,532.5 833.3,543.1 833.1,550.0 C832.9,556.9 832.6,565.0 832.5,568.0"/>
<path d="M540.0,706.0 C535.8,708.1 523.3,714.4 515.0,718.5 C506.7,722.6 494.2,728.5 490.0,730.5"/>
<path d="M490.0,730.5 C492.5,729.7 500.0,726.8 505.0,725.5 C510.0,724.2 515.0,723.4 520.0,723.0 C525.0,722.6 530.0,722.4 535.0,723.0 C540.0,723.6 545.4,725.0 550.0,726.5 C554.6,728.0 558.8,729.8 562.5,732.2 C566.2,734.7 569.6,737.5 572.5,741.0 C575.4,744.5 577.9,748.9 580.0,753.5 C582.1,758.1 583.8,763.5 585.0,768.5 C586.2,773.5 587.0,779.0 587.5,783.5 C588.0,788.0 587.9,793.5 588.0,795.5"/>
<path d="M461.2,765.0 C463.5,763.1 470.2,757.1 475.0,753.5 C479.8,749.9 485.0,746.5 490.0,743.5 C495.0,740.5 500.0,737.6 505.0,735.5 C510.0,733.4 515.0,731.8 520.0,731.0 C525.0,730.2 530.0,730.2 535.0,731.0 C540.0,731.8 545.8,733.6 550.0,735.5 C554.2,737.4 557.1,739.5 560.0,742.2 C562.9,745.0 565.4,748.5 567.5,752.2 C569.6,756.0 571.1,760.0 572.5,764.8 C573.9,769.5 574.9,776.2 575.8,781.0 C576.6,785.8 577.3,789.4 577.5,793.5 C577.7,797.6 577.1,803.5 577.0,805.5"/>
<path d="M496.2,748.0 C498.5,747.4 505.2,745.0 510.0,744.2 C514.8,743.5 520.0,743.0 525.0,743.5 C530.0,744.0 535.8,745.6 540.0,747.2 C544.2,748.9 546.7,750.8 550.0,753.5 C553.3,756.2 557.1,759.8 560.0,763.5 C562.9,767.2 565.5,771.4 567.5,776.0 C569.5,780.6 571.0,786.0 572.0,791.0 C573.0,796.0 573.2,801.4 573.2,806.0 C573.3,810.6 572.9,815.2 572.5,818.5 C572.1,821.8 571.0,824.8 570.8,826.0"/>
<path d="M521.2,735.5 C523.5,736.8 531.0,741.1 535.0,743.5 C539.0,745.9 543.3,748.7 545.0,749.8"/>
<path d="M570.8,826.0 C569.8,829.3 567.6,839.3 565.0,846.0 C562.4,852.7 559.2,860.0 555.0,866.0 C550.8,872.0 545.4,877.7 540.0,882.2 C534.6,886.8 528.3,890.8 522.5,893.5 C516.7,896.2 510.8,897.7 505.0,898.5 C499.2,899.3 493.3,899.3 487.5,898.5 C481.7,897.7 475.4,895.8 470.0,893.5 C464.6,891.2 459.4,888.5 455.0,884.8 C450.6,881.0 446.5,875.8 443.8,871.0 C441.0,866.2 439.7,859.5 438.8,856.0 C437.8,852.5 438.1,850.8 438.0,849.8"/>
<path d="M556.8,807.2 C556.5,804.5 556.5,796.2 555.0,791.0 C553.5,785.8 550.8,780.2 547.5,776.0 C544.2,771.8 539.6,768.4 535.0,766.0 C530.4,763.6 525.0,762.1 520.0,761.5 C515.0,760.9 510.0,761.3 505.0,762.2 C500.0,763.2 495.0,764.5 490.0,767.2 C485.0,770.0 479.6,774.1 475.0,778.5 C470.4,782.9 465.8,788.1 462.5,793.5 C459.2,798.9 456.7,804.8 455.0,811.0 C453.3,817.2 452.5,824.8 452.5,831.0 C452.5,837.2 453.3,843.1 455.0,848.5 C456.7,853.9 459.2,859.1 462.5,863.5 C465.8,867.9 470.4,872.0 475.0,874.8 C479.6,877.5 485.1,879.6 490.0,880.2 C494.9,880.9 502.1,878.8 504.5,878.5"/>
<path d="M596.2,790.5 L779.5,737.5"/>
<path d="M577.0,805.5 L779.5,748.8"/>
<path d="M570.8,825.5 L779.5,761.5"/>
<path d="M577.0,805.5 C576.5,807.2 574.8,812.7 573.8,816.0 C572.7,819.3 571.2,823.9 570.8,825.5"/>
<path d="M642.5,733.0 C642.7,736.8 642.9,747.2 643.8,756.0 C644.6,764.8 646.9,780.6 647.5,785.5"/>
</g>
<g class="part">
<path d="M280.7,297.2 C282.7,295.9 288.3,292.2 292.8,289.4 C297.3,286.6 301.6,283.7 307.9,280.6 C314.2,277.5 324.0,273.3 330.5,270.8 C337.0,268.4 343.1,267.1 347.1,266.2 C351.1,265.2 353.4,265.4 354.6,265.3"/>
<path d="M354.6,265.6 L351.6,264.4 L347.1,267.1 L352.4,269.8 L356.1,268.6"/>
<path d="M360.7,265.6 L365.2,264.4 L369.7,265.9 L374.2,265.3"/>
<path d="M378.8,267.1 L384.8,271.6 L389.3,269.3 L383.3,266.8"/>
<path d="M375.7,266.3 C378.3,266.7 385.8,267.3 390.8,268.6 C395.9,269.8 401.4,271.8 405.9,273.9 C410.4,275.9 414.6,278.3 418.0,280.6 C421.4,283.0 424.3,285.5 426.3,288.2 C428.3,290.8 429.4,294.0 430.0,296.5 C430.7,299.0 430.8,300.9 430.3,303.3 C429.8,305.7 429.1,308.3 427.0,310.8 C425.0,313.3 421.5,316.1 418.0,318.3 C414.5,320.6 410.4,322.4 405.9,324.4 C401.4,326.4 395.9,328.7 390.8,330.4 C385.8,332.2 380.8,333.6 375.7,334.9 C370.7,336.3 365.2,337.6 360.7,338.7 C356.1,339.8 350.6,341.2 348.6,341.7"/>
<path d="M430.3,300.2 C430.2,301.8 430.6,306.3 429.3,309.3 C428.0,312.3 425.4,315.6 422.5,318.3 C419.6,321.1 416.2,323.4 411.9,325.9 C407.7,328.4 402.4,331.2 396.9,333.4 C391.3,335.7 384.8,337.5 378.8,339.5 C372.7,341.5 366.7,343.7 360.7,345.5 C354.6,347.3 348.6,348.6 342.6,350.0 C336.5,351.4 330.5,352.7 324.5,353.8 C318.4,354.8 311.8,355.7 306.4,356.4 C301.0,357.0 294.4,357.4 292.0,357.6"/>
<path d="M431.3,303.3 C430.8,304.9 430.5,309.9 428.8,313.1 C427.1,316.2 424.3,319.1 421.0,322.1 C417.7,325.1 413.5,328.4 408.9,331.2 C404.4,333.9 399.4,336.3 393.8,338.7 C388.3,341.1 381.8,343.4 375.7,345.5 C369.7,347.6 363.7,349.6 357.6,351.2 C351.6,352.9 345.6,354.1 339.5,355.3 C333.5,356.5 327.5,357.5 321.4,358.2 C315.4,358.8 308.3,359.2 303.3,359.4 C298.4,359.5 293.9,359.1 292.0,359.1"/>
<path d="M417.2,279.9 C418.2,280.9 421.5,283.8 423.3,285.9 C425.0,288.1 426.9,290.3 427.8,292.7 C428.7,295.1 428.7,299.0 428.8,300.2"/>
<path d="M292.0,359.1 L292.0,353.8"/>
<path d="M292.0,353.8 C290.9,354.1 287.9,355.6 285.2,355.8 C282.6,355.9 278.2,355.6 276.2,354.8 C274.2,354.1 273.2,352.7 273.2,351.5 C273.2,350.3 274.2,349.1 276.2,347.8 C278.2,346.4 282.2,344.6 285.2,343.2 C288.3,341.9 291.3,340.5 294.3,339.5 C297.3,338.5 301.8,337.6 303.3,337.2"/>
<path d="M285.2,350.3 L292.0,353.8"/>
<path d="M280.7,351.5 L289.8,348.5 L300.3,345.5 L310.9,344.0"/>
<path d="M280.7,296.5 L280.0,301.0 L270.2,307.0"/>
<path d="M270.9,307.8 L280.0,303.3"/>
<path d="M261.1,304.8 L260.4,310.1 L262.6,318.3 L256.6,321.4 L251.3,327.4 L249.0,334.9 L250.6,340.2 L258.1,339.5 L267.1,338.3 L279.2,336.7 L291.3,336.4"/>
<path d="M261.1,304.8 L264.1,304.0 L266.4,311.6 L268.7,312.3 L267.9,303.3 L266.4,302.5"/>
<path d="M262.6,318.3 L270.2,315.3 L274.7,319.9 L271.7,325.9 L279.2,323.6 L280.7,333.4"/>
<path d="M251.3,327.4 L258.1,328.9 L264.1,325.9"/>
<path d="M250.6,334.9 L262.6,333.4 L265.6,337.2"/>
<path d="M258.1,335.7 L261.1,337.2 L258.9,338.0"/>
<path d="M253.6,330.4 L256.6,331.9 L254.3,332.7"/>
<path d="M270.2,327.4 L272.4,333.4 L278.5,331.2 L277.7,325.9"/>
<path d="M282.2,325.9 L283.0,333.4"/>
<path d="M283.0,300.2 L285.2,304.8 L289.8,307.0 L289.8,315.3 L294.3,316.8 L294.3,309.3 L299.6,311.6 L299.6,318.3 L304.9,319.9 L304.9,313.8"/>
<path d="M285.2,301.8 L291.3,304.0 L296.6,307.8 L303.3,310.8 L307.1,315.3 L307.1,321.4"/>
<path d="M286.8,321.4 L287.5,327.4 L292.8,325.9 L292.8,319.9 L286.8,321.4"/>
<path d="M295.8,319.9 L297.3,325.9 L301.8,323.6"/>
<path d="M274.7,316.1 L279.2,319.9 L283.7,318.3"/>
<path d="M280.0,314.6 L284.5,313.1"/>
<path d="M309.4,314.6 C310.4,314.3 313.3,313.1 315.4,313.1 C317.6,313.1 320.9,313.4 322.2,314.6 C323.5,315.7 323.1,318.6 323.0,319.9 C322.8,321.1 321.7,321.7 321.4,322.1"/>
<path d="M312.4,316.1 L319.9,316.1"/>
<path d="M322.2,324.4 L344.1,334.2"/>
<path d="M321.4,325.9 L342.6,335.7"/>
<path d="M323.0,327.4 L323.0,339.5 L328.2,341.7 L328.2,330.4"/>
<path d="M330.5,330.4 L330.5,336.4 L335.0,338.7 L335.0,332.7"/>
<path d="M338.8,332.7 L345.6,333.4 L345.6,338.7 L340.3,341.0 L338.8,336.4"/>
<path d="M340.3,334.2 L344.1,337.2"/>
<path d="M341.1,336.4 L344.8,334.9"/>
<path d="M342.6,325.1 L344.1,333.4"/>
<path d="M341.1,323.6 L344.1,323.6 L344.8,325.9"/>
<path d="M310.9,330.4 L310.9,345.5 L313.9,347.0 L313.9,331.2 L310.9,330.4"/>
<path d="M316.2,339.5 L318.4,347.0"/>
<path d="M319.9,341.0 L323.7,347.8"/>
<path d="M306.4,333.4 L308.6,345.5"/>
<path d="M298.8,337.2 L304.9,335.7 L307.1,338.7 L301.1,341.0"/>
<path d="M285.2,343.2 L291.3,345.5 L295.8,342.5"/>
<path d="M289.8,349.3 L292.8,347.8 L295.1,350.0"/>
<path d="M330.5,344.0 L338.0,341.0 L344.1,344.7"/>
<path d="M353.1,340.2 L356.9,339.5 L356.9,343.2 L353.4,343.7 L353.1,340.2"/>
<path d="M411.9,316.8 L415.0,315.3 L415.7,319.1 L412.7,320.2 L411.9,316.8"/>
<path d="M413.5,303.3 L417.2,301.8 L421.0,304.8 L423.3,308.5 L426.3,307.0"/>
<path d="M415.0,305.5 L415.0,312.3"/>
<path d="M421.7,307.0 L422.5,309.3 L425.5,309.0"/>
<path d="M296.6,299.5 L308.6,307.8 L332.3,298.7"/>
<path d="M332.3,298.7 L336.5,297.5 L338.0,299.9 L334.3,300.2 L332.3,298.7"/>
<path d="M334.3,288.5 L338.8,282.9 L344.4,282.5 L348.0,287.4 L334.3,288.5"/>
<path d="M336.5,286.7 L341.1,284.4 L345.6,286.7"/>
<path d="M338.8,287.4 L340.3,285.2 L344.1,285.9"/>
<path d="M373.5,311.1 L376.7,306.6 L384.2,306.3 L387.2,310.1 L373.5,311.1"/>
<path d="M376.5,310.1 L379.5,307.5 L383.3,309.6"/>
<path d="M393.8,295.7 C393.3,294.3 395.1,291.8 396.9,290.4 C398.6,289.1 401.6,287.9 404.4,287.4 C407.2,286.9 411.1,286.8 413.5,287.4 C415.8,288.1 417.7,289.9 418.3,291.2 C418.8,292.5 418.3,293.8 416.8,295.0 C415.2,296.1 411.7,297.3 408.9,298.0 C406.1,298.7 402.4,299.4 399.9,299.0 C397.4,298.7 394.3,297.2 393.8,295.7Z"/>
<path d="M417.2,292.7 C417.7,294.0 420.1,296.9 419.8,300.2 C419.5,303.6 416.0,310.6 415.3,312.6"/>
<path d="M374.5,319.1 C374.5,318.7 375.3,318.0 375.7,318.0 C376.1,318.0 377.0,318.7 377.0,319.1 C377.0,319.5 376.1,320.3 375.7,320.3 C375.3,320.3 374.5,319.5 374.5,319.1Z"/>
<path d="M295.5,295.4 C295.8,295.6 296.6,296.4 297.3,296.3 C298.0,296.3 299.2,295.3 299.6,295.1"/>
<path d="M345.3,278.8 C345.6,279.0 346.7,279.7 347.4,279.6 C348.1,279.5 349.0,278.6 349.4,278.4"/>
<path d="M378.5,276.1 C378.8,276.2 379.9,276.9 380.6,276.9 C381.3,276.8 382.2,275.9 382.5,275.7"/>
<path d="M396.9,273.1 C397.2,273.2 398.1,273.8 398.7,273.7 C399.3,273.6 400.2,272.7 400.5,272.5"/>
<path d="M405.9,277.6 C406.2,277.7 407.1,278.3 407.7,278.2 C408.3,278.1 409.2,277.2 409.5,277.0"/>
<path d="M407.1,284.6 C407.4,284.7 408.3,285.3 408.9,285.2 C409.5,285.1 410.4,284.2 410.7,284.0"/>
<path d="M369.0,292.7 C369.3,292.9 370.4,293.7 371.2,293.6 C372.1,293.5 373.5,292.4 373.9,292.1"/>
<path d="M341.8,297.5 C342.2,297.7 343.4,298.5 344.4,298.4 C345.3,298.3 346.9,297.2 347.4,296.9"/>
<path d="M355.4,305.1 C355.8,305.2 356.8,306.1 357.6,306.0 C358.5,305.9 359.9,304.7 360.4,304.5"/>
<path d="M316.9,307.0 C317.3,307.2 318.5,308.2 319.3,308.1 C320.2,308.0 321.7,306.8 322.2,306.6"/>
<path d="M341.4,308.5 C341.7,308.7 342.8,309.4 343.5,309.3 C344.1,309.2 345.0,308.3 345.3,308.1"/>
<path d="M391.6,307.0 C392.0,307.2 393.3,308.2 394.1,308.1 C395.0,308.0 396.4,306.8 396.9,306.6"/>
<path d="M329.7,315.0 C330.2,315.2 331.4,316.0 332.3,315.9 C333.2,315.8 334.6,314.7 335.0,314.4"/>
<path d="M350.9,328.2 C351.2,328.3 352.3,329.3 353.1,329.2 C354.0,329.1 355.4,328.0 355.8,327.7"/>
<path d="M336.8,325.9 C337.2,326.0 338.3,326.8 338.9,326.8 C339.6,326.7 340.5,325.8 340.8,325.6"/>
<path d="M297.3,303.3 C297.7,303.4 298.8,304.2 299.6,304.2 C300.3,304.1 301.5,303.2 301.8,303.0"/>
<path d="M283.7,298.0 C284.0,298.1 284.9,298.8 285.6,298.7 C286.2,298.7 287.3,297.7 287.7,297.5"/>
<path d="M1169.4,240.5 C1169.4,240.0 1169.5,238.5 1169.8,237.8 C1170.1,237.2 1170.1,236.9 1171.0,236.6 C1171.8,236.3 1174.3,236.2 1174.9,236.1"/>
<path d="M1174.9,236.1 L1182.2,241.6 L1185.7,243.4 L1194.5,248.9 L1197.4,251.6 L1198.6,253.3 L1198.6,260.3"/>
<path d="M1169.4,240.5 L1169.4,252.4 L1196.2,269.4 L1198.6,269.2"/>
<path d="M1182.2,241.6 L1184.0,241.3 L1189.2,232.6 L1191.0,233.2 L1185.2,242.7"/>
<path d="M1184.5,239.9 L1189.5,233.6"/>
<path d="M1176.9,237.8 L1179.9,239.6 L1181.0,238.7 L1180.5,239.9"/>
<path d="M1189.2,232.6 L1195.1,234.6 L1197.4,237.5 L1200.3,239.9 L1201.0,241.0 L1198.0,242.9 L1196.2,242.2"/>
<path d="M1191.6,242.8 L1192.7,244.7 L1198.0,248.1 L1198.7,249.8 L1197.4,251.6"/>
<path d="M1194.5,248.9 L1196.2,248.6 L1198.0,250.1"/>
<path d="M1185.7,243.4 L1186.9,242.2 L1188.6,242.5"/>
<path d="M1189.2,237.5 L1191.6,239.9 L1195.1,240.2"/>
<path d="M1190.4,235.2 L1192.7,238.1"/>
<path d="M1195.1,236.4 L1198.7,231.7 L1200.9,231.4 L1202.2,232.9 L1198.0,237.5 L1195.1,236.4"/>
<path d="M1197.4,235.5 L1200.3,232.6"/>
<path d="M1198.6,236.4 L1201.5,233.7"/>
<path d="M1196.2,239.3 L1198.0,240.2"/>
<path d="M1200.9,232.6 L1203.4,229.4 L1205.6,228.5 L1212.0,233.2 L1212.7,233.8"/>
<path d="M1212.7,235.5 L1207.9,242.2 L1203.2,240.2 L1205.7,236.4 L1206.9,236.7"/>
<path d="M1204.4,234.0 L1206.2,234.6"/>
<path d="M1210.4,245.2 L1211.5,245.1 L1215.6,249.8 L1214.5,252.7 L1211.5,256.2 L1208.6,258.6 L1206.3,260.9 L1204.0,261.6"/>
<path d="M1208.6,257.4 L1212.6,260.9 L1216.2,262.2 L1216.8,263.8 L1215.1,265.6 L1204.5,268.5 L1200.9,269.4 L1196.2,269.4"/>
<path d="M1202.8,266.8 L1213.9,263.2 L1215.1,262.2"/>
<path d="M1212.6,264.0 L1214.9,264.4"/>
<path d="M1198.6,260.3 L1202.2,257.4 L1205.1,255.1 L1205.7,252.7 L1206.9,252.1 L1208.6,255.2"/>
<path d="M1200.9,251.6 L1203.4,251.6 L1206.3,248.1 L1208.6,244.5"/>
<path d="M1199.7,244.0 L1202.2,244.3 L1200.4,248.2"/>
<path d="M1204.0,244.0 L1205.7,245.8"/>
<path d="M1198.6,263.4 L1200.9,264.5 L1202.8,260.9 L1205.7,257.4 L1204.5,255.1 L1203.4,257.5"/>
<path d="M1198.6,263.8 L1198.1,268.0"/>
<path d="M1201.0,265.7 L1199.9,268.6"/>
<path d="M1202.7,262.1 L1204.4,266.2"/>
<path d="M1200.3,260.3 L1203.4,260.9"/>
<path d="M512.0,660.4 C511.3,660.7 508.9,661.5 507.9,662.2 C506.9,662.9 506.1,663.7 505.9,664.6 C505.6,665.4 505.6,666.2 506.2,667.3 C506.8,668.4 507.9,669.9 509.6,671.4 C511.3,672.8 514.1,674.7 516.4,676.1 C518.7,677.6 520.9,678.8 523.2,679.9 C525.5,680.9 527.7,682.0 530.0,682.4 C532.3,682.8 534.5,682.7 536.8,682.4 C539.1,682.1 542.0,680.9 543.6,680.4 C545.2,679.8 546.0,679.4 546.5,679.3"/>
<path d="M507.2,665.6 C507.8,666.3 509.2,668.5 511.0,670.0 C512.7,671.5 515.5,673.4 517.8,674.8 C520.0,676.2 522.3,677.5 524.6,678.5 C526.8,679.5 529.1,680.5 531.4,680.9 C533.6,681.3 535.9,681.3 538.2,680.9 C540.5,680.5 544.1,679.1 545.3,678.7"/>
<path d="M511.3,649.3 L512.7,663.9"/>
<path d="M513.0,648.9 L523.6,646.3 L527.4,647.4"/>
<path d="M513.0,648.9 L517.8,652.3 L517.8,663.9"/>
<path d="M523.6,646.3 L524.2,653.0"/>
<path d="M527.4,647.4 L527.3,653.8"/>
<path d="M524.2,653.0 L527.3,653.8"/>
<path d="M519.1,653.8 L524.2,653.0"/>
<path d="M519.1,653.8 L519.8,658.4 L523.2,655.7 L524.2,653.0"/>
<path d="M519.8,658.4 L522.5,659.8"/>
<path d="M512.7,664.2 L514.0,665.3 L535.5,678.2"/>
<path d="M517.8,663.9 L529.3,671.0"/>
<path d="M517.8,659.1 L530.0,664.9"/>
<path d="M514.4,654.4 L514.0,657.1"/>
<path d="M514.4,654.4 L515.7,654.2"/>
<path d="M527.3,653.8 L539.5,660.1"/>
<path d="M523.2,660.5 L530.0,664.0"/>
<path d="M525.3,653.8 C525.0,654.3 523.9,655.3 523.6,656.4 C523.2,657.5 523.3,659.8 523.2,660.5"/>
<path d="M530.0,660.1 L535.5,662.9 L535.5,668.7 L530.0,671.4Z"/>
<path d="M531.7,666.6 L533.1,665.9 L531.7,669.3"/>
<path d="M535.5,662.9 L535.5,678.2"/>
<path d="M535.5,672.7 L538.2,675.5"/>
<path d="M535.5,678.2 L539.5,676.8"/>
<path d="M538.2,665.3 L546.3,668.7 L546.3,679.5 L538.2,675.5Z"/>
<path d="M539.3,667.4 L545.1,669.8 L545.1,676.3 L539.3,673.3Z"/>
<path d="M539.3,670.0 L545.1,669.8"/>
<path d="M546.3,668.7 L561.4,665.4 L561.6,672.9 L547.7,677.0"/>
<path d="M547.7,668.7 L547.7,679.5"/>
<path d="M546.3,679.5 L552.5,677.5 L558.6,675.8"/>
<path d="M549.1,671.4 L551.8,674.1 L551.4,677.6"/>
<path d="M549.1,671.4 L549.1,676.8"/>
<path d="M536.8,659.8 L542.3,662.9 L546.3,668.7"/>
<path d="M542.3,661.2 L545.0,657.4 L548.5,657.8 L561.4,665.4"/>
<path d="M543.6,663.2 L546.5,659.1 L550.4,661.3"/>
<path d="M548.5,657.8 L547.7,659.5 L559.9,666.6"/>
<path d="M550.4,661.3 L559.3,666.5"/>
<path d="M557.6,664.6 L557.6,671.4"/>
<path d="M559.9,666.6 L559.9,672.1"/>
<path d="M554.5,668.0 L561.4,665.4"/>
<path d="M538.1,554.1 L539.0,553.3 L561.9,565.7 L563.1,567.3 L563.1,580.5 L560.8,582.5 L538.1,568.9Z"/>
<path d="M540.0,554.9 L561.1,567.1 L561.1,581.8"/>
<path d="M541.9,553.5 L555.5,552.1 L550.4,558.3"/>
<path d="M544.7,554.1 L552.6,553.3"/>
<path d="M555.5,552.1 L554.3,555.2"/>
<path d="M555.8,553.8 L563.9,562.1 L570.5,562.6 L572.1,564.3"/>
<path d="M561.7,565.1 L563.9,562.1"/>
<path d="M551.5,559.2 L561.1,564.8"/>
<path d="M572.1,563.9 L572.5,567.3 L580.5,570.5 L580.5,578.6 L575.8,577.3"/>
<path d="M570.7,567.1 L578.6,570.5 L578.6,577.3"/>
<path d="M574.7,569.4 L574.7,576.2"/>
<path d="M565.6,572.8 L572.8,572.2"/>
<path d="M565.6,574.6 L572.8,575.2 L575.5,578.0"/>
<path d="M565.6,572.8 L565.6,574.6"/>
<path d="M636.3,520.2 L636.3,542.0"/>
<path d="M657.8,522.4 L657.8,534.5"/>
<path d="M625.0,504.3 L625.0,508.1"/>
<path d="M634.6,523.0 L636.3,523.0"/>
<path d="M634.6,526.4 L636.3,526.4"/>
<path d="M634.6,529.8 L636.3,529.8"/>
<path d="M360.8,226.3 C361.7,226.2 364.3,225.7 365.7,225.4 C367.2,225.0 368.3,224.5 369.5,224.2 C370.8,224.0 372.0,223.8 373.3,223.9 C374.5,223.9 376.0,224.1 377.1,224.6 C378.1,225.1 379.1,226.1 379.7,227.1 C380.3,228.0 380.8,229.3 380.8,230.5 C380.9,231.6 380.5,233.0 380.1,233.9 C379.6,234.7 379.1,235.2 378.2,235.7 C377.2,236.3 375.9,236.7 374.4,237.1 C373.0,237.5 371.1,237.8 369.5,238.2 C367.9,238.6 365.7,239.1 365.0,239.3"/>
<path d="M349.9,234.6 L352.5,232.3 L357.1,231.2 L357.4,228.4 L358.8,228.2"/>
<path d="M349.9,234.6 C349.9,234.9 350.0,235.7 350.1,236.1 C350.2,236.6 350.4,237.0 350.7,237.2 C350.9,237.5 351.5,237.9 351.8,237.8 C352.1,237.7 352.5,237.0 352.5,236.5 C352.5,236.0 352.1,235.3 351.8,235.0 C351.5,234.6 350.8,234.5 350.7,234.4"/>
<path d="M354.4,237.6 L355.9,238.4 L360.1,236.9 L360.5,239.1 L364.2,239.1 L364.6,237.2"/>
<path d="M359.3,231.2 L360.1,233.1 L363.9,231.6 L364.6,232.7 L360.5,234.0 L360.1,233.1"/>
<path d="M367.2,228.2 L369.1,227.1 L370.6,227.8 L369.5,230.1 L367.2,230.8Z"/>
<path d="M367.2,233.9 L371.4,233.1 L371.8,234.6 L369.5,235.6 L367.2,235.1Z"/>
<path d="M364.2,233.1 L364.4,235.4"/>
<path d="M360.8,226.3 L362.3,227.4"/>
<path d="M363.9,231.6 L366.1,230.8 L367.6,230.1"/>
<path d="M354.2,235.3 L354.6,235.6"/>
<path d="M363.3,229.3 L363.7,229.5"/>
<path d="M353.3,386.4 L374.4,400.1 L403.8,417.7 L425.4,428.5 L467.5,411.9 L467.4,408.4 L452.8,401.1"/>
<path d="M353.3,386.4 C353.3,385.8 352.9,384.2 353.3,382.9 C353.7,381.7 355.4,379.7 355.8,379.0"/>
<path d="M355.8,379.0 L369.5,375.1 L389.1,371.7 L402.8,370.7"/>
<path d="M353.8,384.4 L425.4,425.2 L467.4,408.9"/>
<path d="M357.7,384.9 L425.4,422.8 L462.6,408.1"/>
<path d="M360.7,385.6 L423.4,419.9"/>
<path d="M425.4,428.5 L425.4,422.8"/>
<path d="M355.8,379.0 L357.7,384.4"/>
<path d="M357.3,380.3 L369.5,377.2 L388.1,373.8"/>
<path d="M358.7,384.4 L369.5,381.5 L384.2,378.1"/>
<path d="M391.1,373.6 L402.8,372.8"/>
<path d="M394.0,376.1 L402.8,375.6"/>
<path d="M369.5,389.3 L369.5,374.6 L373.9,373.1 L379.8,385.4 L371.5,390.3Z"/>
<path d="M371.5,374.2 L371.5,389.9"/>
<path d="M383.7,383.9 L388.1,372.6 L390.1,373.2 L402.8,387.9 L437.2,408.5 L439.3,413.8 L437.2,415.0 L423.4,407.0 L383.7,383.9"/>
<path d="M390.1,373.2 L401.9,388.5"/>
<path d="M402.8,387.9 L403.8,389.1 L435.7,407.2"/>
<path d="M404.3,388.3 L436.2,406.5"/>
<path d="M388.1,372.6 L391.1,372.2"/>
<path d="M402.8,382.9 L403.8,369.7 L407.0,369.7 L409.9,372.8 L410.3,387.4 L407.7,386.4Z"/>
<path d="M407.0,369.7 L407.7,386.4"/>
<path d="M409.2,374.6 L409.7,387.2"/>
<path d="M409.9,375.1 L410.3,387.4"/>
<path d="M414.8,382.7 L429.5,391.8 L427.5,394.4 L413.6,385.4Z"/>
<path d="M416.1,383.4 L415.1,385.6"/>
<path d="M418.0,384.6 L417.1,386.9"/>
<path d="M420.0,385.9 L419.0,388.1"/>
<path d="M422.0,387.1 L421.0,389.3"/>
<path d="M423.9,388.3 L422.9,390.6"/>
<path d="M425.9,389.5 L424.9,391.8"/>
<path d="M427.8,390.8 L426.9,393.2"/>
<path d="M412.6,380.5 L414.8,382.7"/>
<path d="M429.5,391.8 C430.1,391.5 431.8,390.2 433.2,390.3 C434.7,390.4 436.7,391.1 438.1,392.3 C439.6,393.4 441.4,396.3 442.1,397.2"/>
<path d="M427.5,394.4 C428.5,394.7 431.3,395.5 433.2,396.2 C435.2,396.8 437.6,398.2 439.1,398.3 C440.6,398.5 441.6,397.4 442.1,397.2"/>
<path d="M433.7,390.5 C434.2,391.0 436.0,392.5 436.7,393.7 C437.3,395.0 437.5,397.2 437.6,397.9"/>
<path d="M439.1,403.0 L444.0,400.3 L446.0,395.2 L448.9,394.6 L451.5,398.1 L451.5,407.9 L447.0,409.9 L446.6,414.0 L440.3,416.4 L439.1,403.0"/>
<path d="M444.0,400.3 L447.0,402.1 L447.0,409.9"/>
<path d="M442.1,397.2 L443.0,401.1"/>
<path d="M438.1,404.0 L441.6,416.0"/>
<path d="M438.9,403.8 L442.1,415.6"/>
<path d="M439.7,403.5 L442.6,415.0"/>
<path d="M437.2,408.5 L438.1,404.0"/>
<path d="M423.4,419.7 L423.4,407.0 L427.4,405.5 L430.3,407.0 L433.4,413.8 L429.3,416.0"/>
<path d="M425.6,406.2 L425.6,418.7"/>
<path d="M399.9,412.1 C400.2,411.6 401.0,410.0 401.9,409.5 C402.7,409.0 404.0,408.6 404.8,408.9 C405.7,409.2 406.5,410.6 407.0,411.5 C407.5,412.3 407.6,413.6 407.7,414.0"/>
<path d="M402.4,412.4 C402.6,412.1 403.3,410.8 403.8,410.9 C404.3,411.0 405.0,412.5 405.3,412.8"/>
<path d="M448.9,412.8 L452.8,410.9 L462.6,413.8"/>
<path d="M452.8,404.0 L460.7,407.9"/>
<path d="M829.2,642.8 L833.1,641.1 L839.4,638.8 L847.3,638.3 L850.1,640.0 L850.7,647.9 L852.0,653.5 L849.8,658.3 L844.1,660.9 L843.4,664.3 L837.3,666.0 L829.2,662.6 L828.6,659.2 L829.9,658.1Z"/>
<path d="M833.1,641.1 L833.9,663.1"/>
<path d="M836.0,642.0 L836.5,643.3 L837.1,664.3"/>
<path d="M836.5,643.3 L840.5,642.0 L848.4,641.7 L850.1,640.0"/>
<path d="M839.4,638.8 L838.2,642.4"/>
<path d="M833.9,663.1 L837.3,666.0"/>
<path d="M844.1,660.9 L838.2,662.4"/>
<path d="M841.9,650.1 C842.0,649.0 843.5,648.1 844.5,647.9 C845.4,647.6 846.5,647.8 847.5,648.6 C848.5,649.3 850.1,651.2 850.5,652.4 C850.8,653.6 850.2,655.2 849.5,656.0 C848.9,656.8 847.4,657.3 846.4,657.1 C845.4,657.0 844.2,656.1 843.4,654.9 C842.7,653.7 841.7,651.3 841.9,650.1Z"/>
<path d="M844.5,647.9 L847.5,652.4 L846.4,657.1"/>
<path d="M847.5,652.4 L850.5,652.4"/>
<path d="M1076.6,548.4 L1080.5,546.7 L1086.8,544.4 L1094.7,543.9 L1097.5,545.6 L1098.1,553.5 L1099.4,559.1 L1097.2,563.9 L1091.5,566.5 L1090.8,569.9 L1084.7,571.6 L1076.6,568.2 L1076.0,564.8 L1077.3,563.7Z"/>
<path d="M1080.5,546.7 L1081.3,568.7"/>
<path d="M1083.4,547.6 L1083.9,548.9 L1084.5,569.9"/>
<path d="M1083.9,548.9 L1087.9,547.6 L1095.8,547.3 L1097.5,545.6"/>
<path d="M1086.8,544.4 L1085.6,548.0"/>
<path d="M1081.3,568.7 L1084.7,571.6"/>
<path d="M1091.5,566.5 L1085.6,568.0"/>
<path d="M1089.3,555.7 C1089.4,554.6 1090.9,553.7 1091.9,553.5 C1092.8,553.2 1093.9,553.4 1094.9,554.2 C1095.9,554.9 1097.5,556.8 1097.9,558.0 C1098.2,559.2 1097.6,560.8 1096.9,561.6 C1096.3,562.4 1094.8,562.9 1093.8,562.7 C1092.8,562.6 1091.6,561.7 1090.8,560.5 C1090.1,559.3 1089.1,556.9 1089.3,555.7Z"/>
<path d="M1091.9,553.5 L1094.9,558.0 L1093.8,562.7"/>
<path d="M1094.9,558.0 L1097.9,558.0"/>
<path d="M794.7,608.8 C794.8,608.1 795.5,607.4 796.4,606.9 C797.2,606.5 798.7,606.1 799.8,606.2 C800.8,606.4 802.2,607.0 802.6,607.7 C803.0,608.4 802.8,609.7 802.3,610.3 C801.7,611.0 800.3,611.5 799.2,611.7 C798.1,611.8 796.6,611.6 795.8,611.1 C795.1,610.6 794.6,609.5 794.7,608.8Z"/>
<path d="M800.9,604.7 L838.5,590.5"/>
<path d="M801.1,605.2 L838.6,591.1"/>
<path d="M801.8,606.2 L834.3,593.3"/>
<path d="M802.6,609.6 L822.4,605.8"/>
<path d="M803.2,611.2 L822.4,608.3"/>
<path d="M838.5,590.5 L841.9,594.1 L836.5,596.7 L834.3,593.3Z"/>
<path d="M836.0,591.9 L839.4,595.6"/>
<path d="M834.3,593.3 L828.1,602.1"/>
<path d="M837.1,596.1 L830.9,603.2"/>
<path d="M821.8,600.9 L829.2,600.4 L830.5,608.8 L823.5,610.8Z"/>
<path d="M824.7,602.6 L825.2,609.6"/>
<path d="M827.5,602.1 L828.1,609.2"/>
<path d="M822.4,604.3 L829.8,603.8"/>
<path d="M823.0,607.7 L830.1,606.9"/>
<path d="M974.2,557.1 C974.3,556.4 975.0,555.7 975.9,555.2 C976.7,554.8 978.2,554.4 979.3,554.5 C980.3,554.7 981.7,555.3 982.1,556.0 C982.5,556.7 982.3,558.0 981.8,558.6 C981.2,559.3 979.8,559.8 978.7,560.0 C977.6,560.1 976.1,559.9 975.3,559.4 C974.6,558.9 974.1,557.8 974.2,557.1Z"/>
<path d="M980.4,553.0 L1018.0,538.8"/>
<path d="M980.6,553.5 L1018.1,539.4"/>
<path d="M981.3,554.5 L1013.8,541.6"/>
<path d="M982.1,557.9 L1001.9,554.1"/>
<path d="M982.7,559.5 L1001.9,556.6"/>
<path d="M1018.0,538.8 L1021.4,542.4 L1016.0,545.0 L1013.8,541.6Z"/>
<path d="M1015.5,540.2 L1018.9,543.9"/>
<path d="M1013.8,541.6 L1007.6,550.4"/>
<path d="M1016.6,544.4 L1010.4,551.5"/>
<path d="M1001.3,549.2 L1008.7,548.7 L1010.0,557.1 L1003.0,559.1Z"/>
<path d="M1004.2,550.9 L1004.7,557.9"/>
<path d="M1007.0,550.4 L1007.6,557.5"/>
<path d="M1001.9,552.6 L1009.3,552.1"/>
<path d="M1002.5,556.0 L1009.6,555.2"/>
<path d="M837.4,671.3 L837.4,696.6"/>
<path d="M826.3,699.2 L850.0,699.2 L850.0,720.6 L844.7,720.6 L844.7,727.4 L831.4,727.4 L831.4,720.6 L826.3,720.6Z"/>
<path d="M829.2,699.4 C829.3,700.1 829.6,702.2 830.3,703.4 C830.9,704.5 831.9,705.7 833.1,706.4 C834.3,707.2 836.0,707.9 837.4,707.9 C838.8,707.9 840.5,707.2 841.7,706.4 C842.8,705.7 843.8,704.5 844.4,703.4 C845.0,702.2 845.1,700.1 845.3,699.4"/>
<path d="M831.4,738.3 L844.7,738.3"/>
<path d="M831.4,738.5 C831.7,739.2 832.3,741.2 833.1,742.3 C833.8,743.3 835.2,744.2 835.9,744.7 C836.7,745.2 836.9,745.3 837.6,745.3 C838.3,745.3 839.0,745.2 839.9,744.7 C840.7,744.2 841.9,743.3 842.7,742.3 C843.5,741.2 844.4,739.2 844.7,738.5"/>
<path d="M836.3,745.3 L839.6,745.3 L839.6,755.8 L836.3,755.8Z"/>
<path d="M1085.3,573.2 L1085.3,613.8"/>
<path d="M1073.3,617.2 L1097.7,617.2 L1097.7,637.9 L1091.9,637.9 L1091.9,645.4 L1079.1,645.4 L1079.1,637.9 L1073.3,637.9Z"/>
<path d="M1077.5,617.5 C1077.7,618.2 1078.0,620.4 1078.6,621.6 C1079.3,622.8 1080.3,623.9 1081.5,624.6 C1082.6,625.3 1084.2,625.8 1085.6,625.8 C1087.0,625.8 1088.6,625.3 1089.7,624.6 C1090.9,623.9 1091.9,622.8 1092.6,621.6 C1093.2,620.4 1093.5,618.2 1093.7,617.5"/>
<path d="M1078.6,656.6 L1092.2,656.6"/>
<path d="M1078.6,657.0 C1078.9,657.6 1079.5,659.8 1080.3,660.8 C1081.0,661.8 1082.2,662.6 1083.1,663.1 C1084.0,663.6 1084.8,663.7 1085.6,663.6 C1086.4,663.6 1087.2,663.3 1088.1,662.8 C1088.9,662.3 1090.1,661.4 1090.7,660.5 C1091.4,659.5 1092.0,657.6 1092.2,657.0"/>
<path d="M273.3,395.9 L277.1,393.7 L281.6,392.4 L287.3,392.1 L289.2,396.7 L290.5,390.8"/>
<path d="M291.8,390.7 L295.6,389.9"/>
<path d="M297.5,389.2 C298.0,389.1 299.2,388.6 300.7,388.3 C302.2,388.0 304.4,387.6 306.4,387.6 C308.4,387.6 310.8,387.9 312.8,388.3 C314.8,388.7 317.2,389.6 318.5,390.2 C319.9,390.8 320.7,391.8 321.1,392.1"/>
<path d="M305.8,386.4 L306.4,388.0"/>
<path d="M321.1,394.7 C321.3,395.6 322.0,398.6 322.4,400.4 C322.7,402.2 322.8,403.8 323.0,405.5 C323.2,407.2 323.6,408.9 323.6,410.6 C323.7,412.3 323.8,414.0 323.4,415.7 C323.0,417.4 322.3,419.0 321.1,420.8 C319.9,422.6 317.9,424.9 316.0,426.5 C314.1,428.1 312.0,429.2 309.6,430.4 C307.3,431.5 304.7,432.8 302.0,433.3 C299.2,433.8 295.8,433.7 293.0,433.3 C290.3,432.9 287.7,432.0 285.4,431.0 C283.1,430.0 280.7,428.5 279.0,427.2 C277.4,425.8 276.3,424.4 275.5,422.7 C274.7,421.0 274.6,419.0 274.2,417.0 C273.9,414.9 273.8,412.7 273.6,410.6 C273.4,408.5 273.3,406.7 273.3,404.2 C273.2,401.8 273.3,397.3 273.3,395.9"/>
<path d="M287.3,400.4 L299.4,393.4 L314.7,401.4 L302.6,408.7Z"/>
<path d="M296.9,394.1 L299.4,393.1 L305.8,396.1"/>
<path d="M290.5,411.2 L300.1,411.2 L302.6,408.7"/>
<path d="M290.5,411.2 L291.8,418.2 L293.2,427.3"/>
<path d="M300.7,411.9 L302.0,419.5 L304.0,426.7"/>
<path d="M314.7,401.4 L315.4,409.3 L316.1,417.1"/>
<path d="M276.5,406.8 L286.0,400.4"/>
<path d="M277.1,408.0 L286.8,401.7"/>
<path d="M280.9,392.7 L282.2,401.0"/>
<path d="M305.8,390.2 L306.4,395.9"/>
<path d="M309.0,390.5 L309.6,396.7"/>
<path d="M310.9,396.7 L316.0,394.7 L319.2,393.4 L321.2,395.3 L316.0,400.5"/>
<path d="M313.4,397.2 L317.3,395.9 L318.5,398.5 L315.4,399.1"/>
<path d="M275.8,418.2 C276.2,419.1 276.6,421.7 277.7,423.3 C278.9,424.9 280.7,426.6 282.8,427.8 C285.0,429.0 287.5,429.9 290.5,430.4 C293.5,430.8 297.6,431.0 300.7,430.5 C303.8,429.9 306.5,428.6 309.0,427.2 C311.4,425.8 313.5,423.9 315.4,422.1 C317.2,420.3 318.8,418.1 319.8,416.3 C320.8,414.5 321.0,412.1 321.2,411.2"/>
<path d="M277.1,424.0 C277.9,424.7 279.6,427.1 281.6,428.4 C283.6,429.7 286.0,431.2 289.2,431.8 C292.4,432.3 297.3,432.4 300.7,431.9 C304.1,431.4 308.1,429.3 309.6,428.8"/>
<path d="M316.1,417.1 L319.2,415.7 L321.1,411.9"/>
<path d="M309.6,424.0 L312.2,423.3 L312.8,425.9"/>
<path d="M277.7,413.1 L286.0,415.7 L290.6,418.2"/>
<path d="M279.0,417.0 L289.2,420.8"/>
<path d="M281.6,420.8 L291.8,424.0"/>
<path d="M285.4,424.0 L290.5,427.3"/>
<path d="M278.7,414.4 L280.9,413.1 L284.1,414.7"/>
<path d="M282.8,418.2 L286.7,417.0"/>
<path d="M285.4,424.6 L290.5,424.0 L291.1,427.8 L286.7,428.4Z"/>
<path d="M274.6,410.6 L277.7,411.9 L276.5,406.8"/>
<path d="M291.8,397.2 L295.6,396.6"/>
<path d="M290.5,404.2 L291.1,404.9"/>
<path d="M295.0,407.4 L295.6,408.0"/>
<path d="M299.4,408.0 L300.1,408.7"/>
<path d="M289.2,402.9 L291.8,403.6 L292.4,405.5"/>
<path d="M273.9,399.1 L275.2,406.8"/>
<path d="M275.2,399.1 L276.2,406.1"/>
<path d="M599.6,686.5 L616.2,696.3 L613.5,700.8 L620.5,704.9 L615.5,714.3 L608.4,710.5 L605.7,715.5 L588.8,704.9Z"/>
<path d="M598.9,688.3 C599.4,688.9 601.7,690.6 602.3,692.1 C603.0,693.6 603.2,695.7 602.8,697.4 C602.4,699.0 601.2,700.8 599.9,701.9 C598.7,703.0 596.8,703.7 595.4,703.8 C594.0,704.0 592.0,703.1 591.3,702.9"/>
<path d="M550.6,668.7 L591.8,692.4"/>
<path d="M629.5,707.5 C630.0,708.0 631.6,709.3 632.2,710.5 C632.8,711.6 633.1,713.1 633.0,714.4 C632.8,715.7 632.1,717.4 631.3,718.5 C630.5,719.5 629.4,720.2 628.3,720.8 C627.2,721.3 625.7,721.7 624.5,721.7 C623.4,721.7 622.0,720.9 621.5,720.8"/>
<path d="M621.5,720.8 L629.5,707.5"/>
<path d="M631.6,716.2 L640.7,720.3 L639.2,723.5 L630.1,719.2Z"/>
<path d="M523.0,621.2 L519.7,620.5 L514.1,621.0 L515.0,625.0 L517.2,627.9 L518.7,628.4 L519.4,629.3 L519.6,631.1"/>
<path d="M519.4,621.2 L517.0,625.3"/>
<path d="M522.6,623.0 L519.4,627.3"/>
<path d="M524.1,622.3 L526.6,621.6 L540.0,630.0 L542.3,631.0"/>
<path d="M519.7,631.5 L534.9,640.2"/>
<path d="M540.0,630.0 C539.5,630.6 537.7,632.6 536.9,633.7 C536.2,634.7 535.8,635.5 535.5,636.6 C535.1,637.6 535.1,639.4 535.0,640.0"/>
<path d="M541.1,630.5 C540.6,631.1 538.9,633.0 538.2,634.0 C537.4,635.1 536.8,636.0 536.5,636.9 C536.2,637.8 536.4,639.0 536.4,639.4"/>
<path d="M542.3,631.0 C542.5,631.2 543.4,631.7 543.6,632.2 C543.8,632.7 543.8,633.5 543.4,634.0 C543.1,634.5 542.0,634.6 541.4,635.3 C540.9,636.0 540.4,637.3 540.0,638.0 C539.6,638.7 539.3,639.1 538.9,639.3 C538.5,639.4 537.7,638.8 537.5,638.7"/>
<path d="M545.0,634.0 C545.4,634.6 546.8,636.3 547.2,637.3 C547.7,638.3 547.9,639.5 547.8,640.2 C547.7,640.8 547.4,641.0 546.5,641.3 C545.5,641.5 543.8,641.5 542.1,641.5 C540.5,641.5 537.6,641.4 536.4,641.1 C535.2,640.9 535.2,640.3 534.9,640.2"/>
<path d="M186.4,355.6 L190.2,353.7 L194.7,352.1 L200.4,352.1 L200.7,358.8 L204.2,358.5 L203.9,350.5"/>
<path d="M205.2,350.3 L208.7,349.9"/>
<path d="M211.2,348.9 C211.5,348.8 212.0,348.5 213.1,348.3 C214.3,348.1 216.3,347.7 218.2,347.6 C220.2,347.6 222.7,347.8 224.6,348.0 C226.5,348.1 228.3,348.1 229.7,348.6 C231.1,349.1 232.2,349.8 232.9,350.8 C233.6,351.8 233.7,353.0 234.2,354.7 C234.6,356.4 235.2,359.2 235.4,361.0 C235.7,362.8 235.9,364.8 236.0,365.5"/>
<path d="M186.4,355.6 C186.4,356.5 186.3,359.1 186.4,361.0 C186.5,363.0 186.7,365.4 187.0,367.4 C187.3,369.4 188.1,371.3 188.3,373.1 C188.4,374.9 187.9,376.8 188.0,378.2 C188.1,379.7 188.1,380.6 188.9,382.1 C189.7,383.6 191.0,385.7 192.7,387.2 C194.4,388.7 196.8,390.0 199.1,391.0 C201.5,392.0 204.2,392.8 206.8,393.2 C209.3,393.7 211.9,394.0 214.4,393.7 C217.0,393.3 219.7,392.1 222.1,391.0 C224.4,389.9 226.5,388.8 228.4,387.2 C230.4,385.6 232.2,383.3 233.5,381.4 C234.9,379.5 235.9,377.5 236.4,375.7 C237.0,373.9 236.9,372.2 236.9,370.6 C236.8,369.0 236.2,366.9 236.1,366.1"/>
<path d="M188.3,355.9 C188.4,356.8 188.6,359.2 188.9,361.0 C189.2,362.8 189.6,365.3 190.2,366.8 C190.8,368.2 192.1,369.2 192.4,369.6"/>
<path d="M192.4,369.6 L199.1,366.8 L208.7,364.2 L217.0,362.0 L221.4,359.1"/>
<path d="M194.7,352.4 L195.3,361.0 L196.7,366.8"/>
<path d="M204.9,370.0 L213.1,371.2 L215.1,373.1 L216.3,380.8 L217.0,388.8"/>
<path d="M203.6,371.2 L204.9,378.9 L206.3,386.5"/>
<path d="M215.1,369.3 L225.9,363.6 L227.3,370.6 L228.6,377.6"/>
<path d="M213.1,371.2 L215.1,369.3"/>
<path d="M218.9,350.2 L222.1,350.8 L222.4,356.3 L219.5,355.9Z"/>
<path d="M218.2,346.4 L219.2,349.6"/>
<path d="M221.4,359.1 L224.6,356.6 L231.0,355.3 L233.0,357.2 L229.7,359.8 L224.6,361.2Z"/>
<path d="M224.0,358.5 L229.1,357.2 L231.0,358.2"/>
<path d="M230.4,353.4 L232.9,355.0"/>
<path d="M205.5,387.2 L214.4,387.5 L214.8,390.4 L205.5,389.5Z"/>
<path d="M217.0,388.8 L222.1,386.8 L222.7,390.4"/>
<path d="M222.1,384.0 L224.6,383.3 L226.0,386.0"/>
<path d="M224.6,384.0 L228.4,380.8 L233.5,375.7 L234.9,367.4"/>
<path d="M226.0,386.0 L231.0,381.4 L234.9,375.7 L236.1,370.0"/>
<path d="M188.3,380.8 L192.7,384.0 L194.8,386.5 L191.6,386.0Z"/>
<path d="M189.6,382.1 L193.4,385.6"/>
<path d="M199.1,385.9 L202.3,384.6 L203.7,387.2 L201.2,388.6Z"/>
<path d="M192.7,373.8 L199.1,377.0 L204.3,379.5"/>
<path d="M193.7,374.7 L195.9,374.4 L199.1,375.7"/>
<path d="M194.7,378.2 L201.0,378.2"/>
<path d="M197.8,381.4 L203.6,382.7"/>
<path d="M187.6,374.4 L190.2,375.7 L189.6,378.2"/>
<path d="M188.3,370.0 L191.5,371.9 L192.7,373.8"/>
<path d="M198.5,384.0 L205.5,384.6"/>
<path d="M1213.3,509.2 L1227.8,523.3 L1223.8,527.2 L1229.7,533.1 L1220.9,541.7 L1216.3,536.8 L1211.9,540.8 L1196.5,525.2Z"/>
<path d="M1211.9,511.1 C1212.3,512.0 1213.7,514.7 1213.8,516.4 C1213.9,518.2 1213.4,520.2 1212.5,521.7 C1211.6,523.2 1210.1,524.6 1208.5,525.4 C1207.0,526.2 1204.9,526.6 1203.3,526.4 C1201.6,526.3 1199.5,524.7 1198.8,524.3"/>
<path d="M1172.8,486.8 L1201.1,514.4"/>
<path d="M1228.6,549.4 L1238.3,541.2"/>
<path d="M1238.3,541.2 C1238.5,541.7 1239.7,542.9 1239.7,544.1 C1239.8,545.2 1239.6,546.9 1238.8,548.0 C1238.1,549.2 1236.6,550.4 1235.4,550.9 C1234.2,551.5 1232.6,551.5 1231.4,551.2 C1230.3,550.9 1229.0,549.7 1228.6,549.4"/>
<path d="M1236.1,548.8 L1238.7,547.0 L1245.9,554.9 L1243.6,557.3Z"/>
<path d="M1153.5,455.5 L1167.5,451.2 L1178.7,459.8 L1173.5,462.4 L1165.6,464.4 L1158.3,461.7Z"/>
<path d="M1153.5,455.5 C1153.4,456.5 1153.0,459.6 1153.2,461.1 C1153.4,462.6 1153.3,463.5 1154.5,464.5 C1155.7,465.5 1158.2,466.5 1160.3,467.1 C1162.4,467.7 1164.7,468.1 1166.9,468.1 C1169.1,468.1 1171.6,467.7 1173.5,467.1 C1175.3,466.5 1177.2,465.7 1178.1,464.5 C1179.0,463.3 1178.9,460.6 1179.0,459.8"/>
<path d="M1153.7,462.7 C1154.2,463.3 1154.8,465.3 1156.4,466.4 C1157.9,467.4 1160.7,468.6 1162.9,469.1 C1165.1,469.6 1167.4,469.6 1169.5,469.4 C1171.6,469.2 1173.9,468.6 1175.5,467.8 C1177.0,467.0 1178.1,465.1 1178.6,464.5"/>
<path d="M1154.5,465.8 C1155.1,466.4 1156.5,468.5 1158.3,469.4 C1160.2,470.3 1163.3,471.0 1165.6,471.1 C1167.9,471.2 1170.4,470.7 1172.2,470.2 C1174.0,469.6 1175.7,468.1 1176.4,467.7"/>
<path d="M1156.4,468.3 C1157.1,468.9 1159.0,471.0 1161.0,471.6 C1162.9,472.3 1166.0,472.4 1168.2,472.1 C1170.4,471.9 1173.1,470.4 1174.1,470.0"/>
<path d="M1158.3,470.6 L1157.9,479.5 L1157.0,483.5 L1157.4,490.3 L1164.5,493.5 L1167.7,490.9 L1168.2,486.9 L1174.1,484.3 L1174.8,481.1 L1173.0,479.5 L1173.5,471.1"/>
<path d="M1159.6,475.6 L1165.8,476.9 L1165.8,483.7 L1159.6,482.4Z"/>
<path d="M1161.2,478.2 L1164.3,478.9 L1164.3,482.4"/>
<path d="M1158.3,485.5 L1169.5,486.4"/>
<path d="M1161.6,486.1 L1161.6,492.2"/>
<path d="M1164.9,486.9 L1164.9,493.0"/>
<path d="M1159.2,487.4 L1159.2,491.1"/>
<path d="M1162.9,490.1 L1167.5,489.0"/>
<path d="M1169.5,474.5 L1172.4,475.3 L1171.9,479.5"/>
<path d="M1157.0,483.5 L1159.6,482.4"/>
<path d="M1168.2,486.9 L1165.8,483.7"/>
<path d="M1147.8,520.6 C1148.0,519.3 1149.2,517.3 1151.1,516.2 C1152.9,515.0 1156.1,514.0 1159.0,513.5 C1161.8,513.0 1165.4,512.9 1168.2,513.1 C1171.1,513.4 1173.8,514.1 1176.1,515.1 C1178.4,516.1 1181.1,517.7 1182.0,519.1 C1183.0,520.4 1182.6,521.8 1181.6,523.0 C1180.7,524.2 1178.6,525.5 1176.1,526.3 C1173.7,527.1 1170.2,527.9 1166.9,528.0 C1163.6,528.1 1159.2,527.6 1156.4,527.0 C1153.5,526.3 1151.2,525.4 1149.8,524.3 C1148.3,523.3 1147.6,522.0 1147.8,520.6Z"/>
<path d="M1151.1,520.4 C1152.0,519.7 1154.2,517.3 1156.4,516.4 C1158.5,515.6 1161.6,515.4 1164.3,515.4 C1166.9,515.4 1170.0,515.7 1172.2,516.4 C1174.4,517.1 1176.8,518.5 1177.4,519.7 C1178.1,520.9 1177.4,522.7 1176.1,523.7 C1174.8,524.7 1172.2,525.4 1169.5,525.6 C1166.9,525.9 1162.9,525.8 1160.3,525.4 C1157.7,524.9 1154.8,523.4 1153.7,523.0"/>
<path d="M1156.4,520.1 C1157.2,519.7 1159.6,518.1 1161.6,517.7 C1163.6,517.4 1166.3,517.6 1168.2,518.0 C1170.1,518.4 1172.4,519.5 1172.8,520.4 C1173.3,521.2 1172.3,522.7 1170.8,523.3 C1169.4,523.9 1166.3,524.1 1164.3,524.1 C1162.2,524.0 1159.3,523.0 1158.3,522.7"/>
<path d="M1162.3,520.6 C1162.8,520.4 1164.5,519.3 1165.6,519.3 C1166.7,519.3 1168.6,520.1 1168.9,520.6 C1169.1,521.2 1167.8,522.2 1166.9,522.5 C1166.0,522.7 1164.1,522.3 1163.6,522.2"/>
<path d="M1149.8,519.1 L1153.1,517.7"/>
<path d="M1153.7,515.1 L1157.0,517.1"/>
<path d="M1160.3,514.0 L1161.6,516.4"/>
<path d="M1168.2,513.8 L1167.5,516.2"/>
<path d="M1174.8,515.4 L1172.8,517.5"/>
<path d="M1179.4,518.0 L1176.1,519.1"/>
<path d="M1180.7,522.3 L1177.4,521.9"/>
<path d="M1175.5,525.6 L1174.1,523.7"/>
<path d="M1168.2,527.2 L1167.9,525.1"/>
<path d="M1160.3,527.0 L1161.4,525.0"/>
<path d="M1153.1,525.0 L1155.0,523.3"/>
<path d="M1149.8,522.3 L1152.4,521.7"/>
<path d="M1157.0,519.1 L1159.2,520.6"/>
<path d="M1169.5,519.1 L1171.1,517.7"/>
<path d="M1164.9,517.1 L1165.3,518.8"/>
<path d="M1173.5,522.3 L1175.5,523.0"/>
<path d="M1154.0,464.0 C1154.5,464.5 1155.5,466.3 1157.0,467.3 C1158.5,468.3 1160.9,469.4 1162.9,469.9 C1165.0,470.4 1167.4,470.4 1169.5,470.2 C1171.6,470.0 1174.0,469.4 1175.5,468.6 C1176.9,467.8 1178.0,466.1 1178.5,465.6"/>
<path d="M1155.0,466.9 C1155.7,467.4 1157.2,469.2 1159.0,470.0 C1160.7,470.8 1163.4,471.5 1165.6,471.6 C1167.8,471.7 1170.4,471.2 1172.2,470.7 C1173.9,470.2 1175.2,468.8 1175.8,468.5"/>
<path d="M1158.3,470.6 L1173.5,471.1"/>
<path d="M1157.9,474.5 L1159.6,475.6"/>
<path d="M1157.9,479.5 L1159.6,482.4"/>
<path d="M1157.0,483.5 L1157.0,490.3"/>
<path d="M1159.6,492.0 L1164.5,493.5"/>
<path d="M1158.3,487.4 L1164.5,489.0"/>
<path d="M1169.5,479.5 L1171.9,479.5"/>
<path d="M1171.9,479.5 L1174.1,484.3"/>
<path d="M1151.1,518.8 L1155.0,521.0"/>
<path d="M1163.6,514.8 L1164.5,517.7"/>
<path d="M1176.8,517.7 L1174.1,519.7"/>
<path d="M1176.1,524.6 L1173.5,522.7"/>
<path d="M1162.3,526.7 L1162.9,524.3"/>
<path d="M1151.7,522.7 L1154.8,521.9"/>
<path d="M1167.5,520.1 L1169.5,521.4"/>
<path d="M608.8,448.1 L612.4,446.9 L618.2,454.1 L610.0,453.2Z"/>
<path d="M771.6,382.4 L777.7,384.1 L774.2,391.5Z"/>
<path d="M1156.1,410.2 L1159.5,416.1 L1151.6,420.4 L1153.6,411.9Z"/>
<path d="M1075.1,397.8 L1091.7,407.9 L1089.4,412.5 L1096.7,416.5 L1090.9,427.5 L1084.2,423.8 L1081.1,428.6 L1063.5,418.2Z"/>
<path d="M1074.0,399.9 C1074.6,400.6 1077.0,402.6 1077.7,404.2 C1078.4,405.7 1078.6,407.8 1078.3,409.4 C1077.9,411.1 1077.0,412.8 1075.7,414.0 C1074.4,415.1 1072.3,415.9 1070.7,416.2 C1069.1,416.5 1066.9,415.7 1066.2,415.6"/>
<path d="M1105.0,421.0 C1105.5,421.5 1107.1,422.8 1107.7,424.0 C1108.3,425.1 1108.6,426.6 1108.5,427.9 C1108.3,429.2 1107.6,430.9 1106.8,432.0 C1106.0,433.0 1104.9,433.7 1103.8,434.3 C1102.7,434.8 1101.2,435.2 1100.0,435.2 C1098.9,435.2 1097.5,434.4 1097.0,434.3"/>
<path d="M1097.0,434.3 L1105.0,421.0"/>
<path d="M1107.1,429.7 L1116.2,433.8 L1114.7,437.0 L1105.6,432.7Z"/>
<path d="M1014.1,334.5 L1010.8,333.8 L1005.2,334.3 L1006.1,338.3 L1008.3,341.2 L1009.8,341.7 L1010.5,342.6 L1010.7,344.4"/>
<path d="M1010.5,334.5 L1008.1,338.6"/>
<path d="M1013.7,336.3 L1010.5,340.6"/>
<path d="M1015.2,335.6 L1017.7,334.9 L1031.1,343.3 L1033.4,344.3"/>
<path d="M1010.8,344.8 L1026.0,353.5"/>
<path d="M1031.1,343.3 C1030.6,343.9 1028.8,345.9 1028.0,347.0 C1027.3,348.0 1026.9,348.8 1026.6,349.9 C1026.2,350.9 1026.2,352.7 1026.1,353.3"/>
<path d="M1032.2,343.8 C1031.7,344.4 1030.0,346.3 1029.3,347.3 C1028.5,348.4 1027.9,349.3 1027.6,350.2 C1027.3,351.1 1027.5,352.3 1027.5,352.7"/>
<path d="M1033.4,344.3 C1033.6,344.5 1034.5,345.0 1034.7,345.5 C1034.9,346.0 1034.9,346.8 1034.5,347.3 C1034.2,347.8 1033.1,347.9 1032.5,348.6 C1032.0,349.3 1031.5,350.6 1031.1,351.3 C1030.7,352.0 1030.4,352.4 1030.0,352.6 C1029.6,352.7 1028.8,352.1 1028.6,352.0"/>
<path d="M1036.1,347.3 C1036.5,347.9 1037.9,349.6 1038.3,350.6 C1038.8,351.6 1039.0,352.8 1038.9,353.5 C1038.8,354.1 1038.5,354.3 1037.6,354.6 C1036.6,354.8 1034.9,354.8 1033.2,354.8 C1031.6,354.8 1028.7,354.7 1027.5,354.4 C1026.3,354.2 1026.3,353.6 1026.0,353.5"/>
<path d="M1188.9,193.7 L1185.6,193.0 L1180.0,193.5 L1180.9,197.5 L1183.1,200.4 L1184.6,200.9 L1185.3,201.8 L1185.5,203.6"/>
<path d="M1185.3,193.7 L1182.9,197.8"/>
<path d="M1188.5,195.5 L1185.3,199.8"/>
<path d="M1190.0,194.8 L1192.5,194.1 L1205.9,202.5 L1208.2,203.5"/>
<path d="M1185.6,204.0 L1200.8,212.7"/>
<path d="M1205.9,202.5 C1205.4,203.1 1203.6,205.1 1202.8,206.2 C1202.1,207.2 1201.7,208.0 1201.4,209.1 C1201.0,210.1 1201.0,211.9 1200.9,212.5"/>
<path d="M1207.0,203.0 C1206.5,203.6 1204.8,205.5 1204.1,206.5 C1203.3,207.6 1202.7,208.5 1202.4,209.4 C1202.1,210.3 1202.3,211.5 1202.3,211.9"/>
<path d="M1208.2,203.5 C1208.4,203.7 1209.3,204.2 1209.5,204.7 C1209.7,205.2 1209.7,206.0 1209.3,206.5 C1209.0,207.0 1207.9,207.1 1207.3,207.8 C1206.8,208.5 1206.3,209.8 1205.9,210.5 C1205.5,211.2 1205.2,211.6 1204.8,211.8 C1204.4,211.9 1203.6,211.3 1203.4,211.2"/>
<path d="M1210.9,206.5 C1211.3,207.1 1212.7,208.8 1213.1,209.8 C1213.6,210.8 1213.8,212.0 1213.7,212.7 C1213.6,213.3 1213.3,213.5 1212.4,213.8 C1211.4,214.0 1209.7,214.0 1208.0,214.0 C1206.4,214.0 1203.5,213.9 1202.3,213.6 C1201.1,213.4 1201.1,212.8 1200.8,212.7"/>
<path d="M974.6,365.9 C973.7,366.3 970.6,367.4 969.3,368.3 C968.0,369.2 967.0,370.3 966.6,371.4 C966.3,372.5 966.3,373.4 967.1,374.9 C967.9,376.4 969.3,378.3 971.5,380.2 C973.7,382.1 977.4,384.6 980.3,386.4 C983.3,388.3 986.2,389.9 989.2,391.3 C992.1,392.6 995.1,394.0 998.0,394.6 C1001.0,395.1 1003.9,395.0 1006.9,394.6 C1009.8,394.1 1013.7,392.6 1015.7,391.9 C1017.8,391.2 1018.8,390.7 1019.5,390.5"/>
<path d="M968.4,372.7 C969.2,373.7 971.0,376.5 973.3,378.4 C975.6,380.4 979.2,382.8 982.1,384.6 C985.1,386.5 988.0,388.2 991.0,389.5 C993.9,390.8 996.9,392.1 999.8,392.6 C1002.8,393.1 1005.6,393.1 1008.7,392.6 C1011.7,392.1 1016.4,390.2 1018.0,389.8"/>
<path d="M973.7,351.5 L975.5,370.5"/>
<path d="M975.9,351.0 L989.6,347.7 L994.7,349.1"/>
<path d="M975.9,351.0 L982.1,355.4 L982.1,370.5"/>
<path d="M989.6,347.7 L990.5,356.3"/>
<path d="M994.7,349.1 L994.5,357.4"/>
<path d="M990.5,356.3 L994.5,357.4"/>
<path d="M983.9,357.4 L990.5,356.3"/>
<path d="M983.9,357.4 L984.8,363.4 L989.2,359.9 L990.5,356.3"/>
<path d="M984.8,363.4 L988.3,365.2"/>
<path d="M975.5,370.9 L977.3,372.3 L1005.1,389.1"/>
<path d="M982.1,370.5 L997.2,379.8"/>
<path d="M982.1,364.3 L998.0,371.8"/>
<path d="M977.7,358.1 L977.3,361.6"/>
<path d="M977.7,358.1 L979.5,357.9"/>
<path d="M994.5,357.4 L1010.4,365.6"/>
<path d="M989.2,366.1 L998.0,370.7"/>
<path d="M991.9,357.4 C991.5,357.9 990.1,359.3 989.6,360.7 C989.2,362.2 989.3,365.2 989.2,366.1"/>
<path d="M998.0,365.6 L1005.1,369.2 L1005.1,376.7 L998.0,380.2Z"/>
<path d="M1000.3,374.0 L1002.0,373.1 L1000.3,377.6"/>
<path d="M1005.1,369.2 L1005.1,389.1"/>
<path d="M1005.1,382.0 L1008.7,385.5"/>
<path d="M1005.1,389.1 L1010.4,387.3"/>
<path d="M1008.7,372.3 L1019.3,376.7 L1019.3,390.8 L1008.7,385.5Z"/>
<path d="M1010.2,375.1 L1017.7,378.2 L1017.7,386.6 L1010.2,382.7Z"/>
<path d="M1010.2,378.4 L1017.7,378.2"/>
<path d="M1019.3,376.7 L1038.9,372.4 L1039.2,382.2 L1021.1,387.5"/>
<path d="M1021.1,376.7 L1021.1,390.8"/>
<path d="M1019.3,390.8 L1027.3,388.2 L1035.2,386.0"/>
<path d="M1022.8,380.2 L1026.4,383.8 L1025.9,388.4"/>
<path d="M1022.8,380.2 L1022.8,387.3"/>
<path d="M1006.9,365.2 L1014.0,369.2 L1019.3,376.7"/>
<path d="M1014.0,366.9 L1017.5,362.1 L1022.1,362.5 L1038.9,372.4"/>
<path d="M1015.7,369.6 L1019.5,364.3 L1024.6,367.1"/>
<path d="M1022.1,362.5 L1021.1,364.7 L1037.0,374.0"/>
<path d="M1024.6,367.1 L1036.1,373.8"/>
<path d="M1033.9,371.4 L1033.9,380.2"/>
<path d="M1037.0,374.0 L1037.0,381.1"/>
<path d="M1029.9,375.8 L1038.9,372.4"/>
<path d="M1036.4,389.1 L1058.8,401.4"/>
</g>
<g class="dash">
<path d="M550.4,558.3 L561.9,565.1"/>
<path d="M1148.4,525.6 C1148.4,527.0 1147.1,531.8 1148.4,533.5 C1149.8,535.3 1153.5,535.5 1156.4,536.2 C1159.2,536.9 1164.0,537.5 1165.6,537.8"/>
<path d="M1165.6,537.8 C1166.9,537.5 1170.8,537.1 1173.5,536.4 C1176.1,535.8 1180.0,535.6 1181.4,533.8 C1182.7,532.0 1181.6,527.0 1181.6,525.6"/>
</g>
<g class="dot">
<path d="M590.5,493.3 L625.0,509.2"/>
<path d="M593.3,491.3 L628.4,507.1"/>
<path d="M601.3,490.4 L631.8,504.3"/>
<path d="M620.5,491.9 L653.9,505.8"/>
<path d="M628.4,491.3 L654.4,504.0"/>
<path d="M590.5,510.3 L632.4,526.6"/>
<path d="M597.9,507.1 L636.3,520.7"/>
<path d="M608.1,513.9 L631.8,525.2"/>
<path d="M609.2,524.1 L631.8,525.8"/>
<path d="M625.0,509.2 L659.0,513.9 L662.9,513.9"/>
<path d="M631.8,504.3 L660.1,512.8"/>
<path d="M662.9,513.9 L661.8,519.6"/>
<path d="M636.3,520.7 L657.8,522.4"/>
<path d="M632.4,538.8 L662.9,540.0"/>
<path d="M638.6,529.8 L656.7,527.5"/>
<path d="M643.1,536.6 L654.4,529.8"/>
<path d="M600.1,500.4 L616.0,513.9"/>
<path d="M616.0,498.1 L625.0,509.2"/>
<path d="M568.5,521.3 C570.3,520.5 576.8,520.6 580.9,521.9 C585.1,523.1 589.6,526.2 593.3,528.6 C597.1,531.1 601.6,534.2 603.5,536.6 C605.5,538.9 606.9,541.9 604.9,542.9 C602.9,543.9 595.8,543.7 591.7,542.4 C587.5,541.2 583.4,538.3 579.8,535.7 C576.1,533.0 571.7,529.0 569.8,526.6 C567.9,524.2 566.6,522.1 568.5,521.3Z"/>
<path d="M590.0,536.6 C590.7,535.7 592.8,532.0 594.5,531.5 C596.2,530.9 598.5,531.9 600.1,533.2 C601.7,534.4 603.4,537.9 604.1,538.8"/>
<path d="M591.7,542.4 L594.5,531.5"/>
<path d="M708.7,199.9 C710.0,201.4 713.4,206.3 716.4,208.8 C719.4,211.4 722.8,213.5 726.7,215.3 C730.5,217.0 735.6,218.0 739.5,219.1 C743.3,220.2 748.0,221.2 749.7,221.7"/>
<path d="M698.5,215.3 C699.7,215.7 703.2,217.6 706.2,217.8 C709.1,218.0 713.0,217.0 716.4,216.5 C719.8,216.1 725.0,215.5 726.7,215.3"/>
<path d="M679.2,224.2 C681.2,224.7 686.9,226.8 690.8,226.8 C694.6,226.8 698.9,225.5 702.3,224.2 C705.7,222.9 708.9,221.2 711.3,219.1 C713.6,217.0 715.6,212.7 716.4,211.4"/>
<path d="M692.1,231.9 C694.0,231.7 700.0,231.5 703.6,230.6 C707.2,229.8 710.9,228.3 713.8,226.8 C716.8,225.3 720.3,222.5 721.5,221.7"/>
<path d="M702.3,237.1 C704.2,236.6 710.2,235.6 713.8,234.5 C717.5,233.4 721.1,232.4 724.1,230.6 C727.1,228.9 730.5,225.3 731.8,224.2"/>
<path d="M713.8,238.3 C715.6,237.9 720.7,236.8 724.1,235.8 C727.5,234.7 731.4,233.4 734.4,231.9 C737.4,230.4 740.8,227.6 742.1,226.8"/>
<path d="M726.7,239.0 C728.4,238.5 733.5,237.6 736.9,236.4 C740.3,235.2 744.2,233.5 747.2,231.9 C750.2,230.3 753.6,227.6 754.9,226.8"/>
<path d="M680.5,219.1 L698.5,206.3"/>
<path d="M685.6,224.2 L708.7,208.8"/>
<path d="M693.3,229.4 L713.8,215.3"/>
<path d="M702.3,233.2 L724.1,219.1"/>
<path d="M742.1,226.8 L757.4,231.9 L775.4,230.6 L790.8,224.2"/>
<path d="M744.6,230.6 L760.0,235.8"/>
<path d="M749.7,221.7 L765.1,228.1 L783.1,224.2"/>
<path d="M785.6,221.7 L793.3,219.1 L792.1,224.2"/>
<path d="M712.6,199.9 L724.1,205.0"/>
<path d="M717.7,198.6 L722.8,203.7"/>
<path d="M748.5,201.2 L757.4,202.4"/>
<path d="M766.4,213.3 L776.7,214.6"/>
<path d="M687.6,171.0 L693.3,174.2"/>
<path d="M688.8,174.2 L692.7,171.7"/>
<path d="M669.0,211.4 C669.6,212.7 670.7,216.6 672.8,219.1 C675.0,221.6 678.2,223.9 681.8,226.2 C685.4,228.4 689.7,230.7 694.6,232.6 C699.5,234.4 705.5,236.0 711.3,237.1 C717.1,238.1 726.2,238.7 729.2,239.0"/>
<path d="M675.4,211.4 C676.2,212.7 677.9,216.5 680.5,219.1 C683.1,221.7 686.7,224.6 690.8,226.8 C694.8,229.0 699.7,231.2 704.9,232.6 C710.0,234.0 716.2,234.6 721.5,235.1 C726.9,235.6 734.4,235.4 736.9,235.5"/>
<path d="M1165.6,530.9 L1165.6,537.8"/>
</g>
<g class="dot2">
<path d="M591.7,495.3 L623.9,509.6"/>
<path d="M596.7,492.4 L629.5,506.2"/>
<path d="M604.7,491.3 L632.4,503.2"/>
<path d="M622.8,493.6 L652.7,506.6"/>
<path d="M591.7,512.2 L630.7,527.5"/>
<path d="M600.1,509.4 L635.2,522.1"/>
<path d="M609.2,516.2 L632.4,524.3"/>
<path d="M627.3,509.6 L660.1,515.3"/>
<path d="M637.5,522.4 L656.7,524.3"/>
<path d="M638.0,538.8 L661.2,540.5"/>
<path d="M660.1,513.9 L662.4,518.5"/>
<path d="M643.1,528.6 L654.4,533.2"/>
<path d="M602.4,502.6 L617.1,516.2"/>
<path d="M647.6,527.5 L649.9,529.8"/>
<path d="M569.6,522.1 C571.3,521.4 577.0,521.7 580.9,523.0 C584.8,524.2 589.2,527.2 592.8,529.5 C596.4,531.9 600.6,535.1 602.4,537.1 C604.2,539.2 605.3,541.3 603.5,542.0 C601.8,542.7 595.9,542.5 592.0,541.3 C588.1,540.1 583.9,537.3 580.3,534.9 C576.8,532.5 572.5,529.1 570.7,526.9 C568.9,524.8 567.9,522.7 569.6,522.1Z"/>
<path d="M591.1,533.2 L602.4,541.1"/>
<path d="M671.5,167.8 C672.7,166.9 676.2,165.9 679.2,165.9 C682.2,165.9 686.5,166.4 689.5,167.8 C692.5,169.2 695.7,172.6 697.2,174.2 C698.7,175.8 698.7,176.3 698.5,177.4 C698.2,178.6 698.0,180.9 695.9,181.3 C693.8,181.7 688.8,180.9 685.6,180.0 C682.4,179.1 678.9,177.5 676.7,176.2 C674.4,174.8 673.0,173.1 672.2,171.7 C671.3,170.3 670.4,168.8 671.5,167.8Z"/>
<path d="M676.7,215.3 L702.3,201.2"/>
<path d="M681.8,221.7 L711.3,205.0"/>
<path d="M689.5,228.1 L717.7,211.4"/>
<path d="M698.5,233.2 L726.7,216.5"/>
<path d="M708.7,237.1 L735.6,221.7"/>
<path d="M720.3,238.3 L744.6,224.2"/>
<path d="M731.8,238.3 L757.4,226.8"/>
<path d="M742.1,234.5 C745.0,234.1 754.4,233.2 760.0,231.9 C765.6,230.6 770.5,228.9 775.4,226.8 C780.3,224.7 786.1,221.5 789.5,219.1 C792.9,216.8 794.8,213.8 795.9,212.7"/>
<path d="M702.3,201.2 C704.2,202.6 709.8,207.8 713.8,210.1 C717.9,212.5 722.0,213.5 726.7,215.3 C731.4,217.0 739.5,219.5 742.1,220.4"/>
<path d="M698.5,216.5 L726.7,217.2"/>
<path d="M693.3,221.7 L721.5,224.2"/>
<path d="M701.0,226.8 L731.8,229.4"/>
<path d="M671.5,206.3 L692.1,197.3"/>
<path d="M698.5,194.7 L721.5,190.9"/>
<path d="M762.6,190.9 C765.8,191.3 775.8,192.0 781.8,193.5 C787.8,195.0 794.2,197.5 798.5,199.9 C802.7,202.2 805.9,206.3 807.4,207.6"/>
</g>
<g class="dot3">
<path d="M668.3,210.1 C669.2,207.4 671.4,202.6 675.4,199.9 C679.3,197.1 685.6,195.3 692.1,193.5 C698.5,191.6 706.4,190.0 713.8,189.0 C721.3,187.9 728.8,187.3 736.9,187.1 C745.0,186.8 755.1,187.2 762.6,187.7 C770.0,188.2 775.8,189.0 781.8,190.3 C787.8,191.5 793.8,193.4 798.5,195.4 C803.2,197.4 807.7,200.2 810.0,202.4 C812.3,204.7 812.7,206.3 812.3,208.8 C811.9,211.4 810.4,215.0 807.4,217.8 C804.5,220.6 800.0,223.2 794.6,225.5 C789.3,227.9 782.4,229.9 775.4,231.9 C768.3,234.0 759.6,236.4 752.3,237.7 C745.0,239.0 738.6,239.5 731.8,239.6 C725.0,239.7 717.7,239.4 711.3,238.3 C704.9,237.3 698.7,235.3 693.3,233.2 C688.0,231.1 683.1,228.3 679.2,225.5 C675.4,222.7 672.1,219.1 670.3,216.5 C668.4,214.0 667.5,212.9 668.3,210.1Z"/>
<path d="M674.7,210.1 C675.6,207.7 678.1,204.1 681.8,201.8 C685.5,199.4 691.4,197.6 697.2,196.0 C702.9,194.4 709.6,193.1 716.4,192.2 C723.2,191.3 730.7,190.8 738.2,190.6 C745.7,190.5 754.4,190.7 761.3,191.2 C768.1,191.6 773.9,192.3 779.2,193.5 C784.6,194.6 789.3,196.1 793.3,197.9 C797.4,199.8 801.6,202.4 803.6,204.4 C805.6,206.3 805.9,207.5 805.5,209.5 C805.1,211.5 803.7,214.3 801.0,216.5 C798.4,218.8 794.4,220.9 789.5,222.9 C784.6,225.0 777.9,227.0 771.5,228.7 C765.1,230.5 757.6,232.4 751.0,233.5 C744.4,234.5 738.2,235.1 731.8,235.1 C725.4,235.2 718.4,234.8 712.6,233.8 C706.7,232.9 701.2,231.2 696.5,229.4 C691.8,227.5 687.7,225.1 684.4,222.9 C681.0,220.8 678.3,218.7 676.7,216.5 C675.1,214.4 673.9,212.6 674.7,210.1Z"/>
<path d="M681.8,211.4 C682.8,209.6 685.9,206.4 689.5,204.4 C693.1,202.3 698.5,200.6 703.6,199.2 C708.7,197.8 714.3,196.8 720.3,196.0 C726.2,195.3 732.9,194.9 739.5,194.7 C746.1,194.6 754.0,194.6 760.0,195.0 C766.0,195.4 770.9,196.3 775.4,197.3 C779.9,198.3 783.7,199.7 786.9,201.2 C790.1,202.6 793.1,204.8 794.6,206.3 C796.1,207.8 796.3,208.6 795.9,210.1 C795.5,211.6 794.4,213.5 792.1,215.3 C789.7,217.0 786.1,218.7 781.8,220.4 C777.5,222.1 772.0,223.8 766.4,225.3 C760.9,226.8 754.2,228.5 748.5,229.4 C742.7,230.3 737.4,230.6 731.8,230.6 C726.2,230.7 720.3,230.4 715.1,229.6 C710.0,228.8 705.2,227.3 701.0,225.8 C696.9,224.2 693.0,222.1 690.1,220.4 C687.2,218.6 685.1,216.8 683.7,215.3 C682.3,213.8 680.8,213.2 681.8,211.4Z"/>
</g>
<g class="thin">
<path d="M726.0,188.6 L734.4,187.1"/>
<path d="M758.7,187.7 L763.8,188.6"/>
<path d="M735.6,196.7 L742.7,196.0"/>
<path d="M763.2,196.3 L767.7,197.1"/>
<path d="M729.2,238.3 L742.1,239.0"/>
<path d="M706.2,215.3 L720.3,214.6"/>
<path d="M1162.9,455.8 L1163.2,456.1"/>
<path d="M1166.2,455.2 L1166.5,455.4"/>
<path d="M1164.5,458.4 L1164.8,458.7"/>
<path d="M1168.2,457.8 L1168.5,458.1"/>
<path d="M1170.2,459.8 L1170.4,460.0"/>
<path d="M1161.6,459.8 L1161.9,460.0"/>
<path d="M560.5,426.6 L560.5,429.3"/>
<path d="M564.1,427.9 L564.1,430.5"/>
<path d="M567.7,429.3 L567.7,431.7"/>
<path d="M571.4,430.7 L571.4,432.9"/>
<path d="M575.0,432.2 L575.0,434.2"/>
<path d="M578.6,433.6 L578.6,435.5"/>
<path d="M582.2,435.1 L582.2,436.9"/>
<path d="M585.8,436.5 L585.8,438.2"/>
<path d="M589.5,438.0 L589.5,439.4"/>
<path d="M592.4,439.3 L592.4,440.6"/>
<path d="M594.9,440.6 L594.9,441.8"/>
<path d="M597.4,441.8 L597.4,443.0"/>
<path d="M600.0,443.0 L600.0,444.1"/>
<path d="M602.5,444.4 L602.5,445.3"/>
<path d="M605.0,445.7 L605.0,446.4"/>
<path d="M607.6,446.9 L607.6,447.6"/>
<path d="M777.7,337.5 L780.4,333.9"/>
<path d="M777.7,341.7 L780.4,338.2"/>
<path d="M777.7,345.9 L780.4,342.4"/>
<path d="M777.7,350.3 L780.2,346.8"/>
<path d="M777.4,354.5 L780.0,351.0"/>
<path d="M777.0,358.7 L779.6,355.2"/>
<path d="M776.7,362.9 L779.3,359.4"/>
<path d="M776.5,367.1 L778.9,363.6"/>
<path d="M776.1,370.4 L778.2,367.8"/>
<path d="M775.8,373.8 L777.7,372.2"/>
<path d="M775.4,377.3 L777.0,376.4"/>
<path d="M775.1,380.6 L776.5,380.6"/>
<path d="M1181.8,349.0 L1184.2,352.4"/>
<path d="M1180.6,352.9 L1183.0,356.3"/>
<path d="M1179.4,356.6 L1181.6,360.0"/>
<path d="M1178.2,360.6 L1180.4,364.0"/>
<path d="M1177.0,364.3 L1179.1,367.7"/>
<path d="M1175.7,367.7 L1177.7,371.1"/>
<path d="M1174.3,371.3 L1176.5,374.7"/>
<path d="M1173.0,374.7 L1175.2,378.1"/>
<path d="M1171.6,378.2 L1173.8,381.6"/>
<path d="M1170.2,381.3 L1172.4,384.7"/>
<path d="M1168.9,384.3 L1170.9,387.7"/>
<path d="M1167.7,387.4 L1169.6,390.8"/>
<path d="M1166.3,390.5 L1168.0,393.9"/>
<path d="M1164.8,393.7 L1166.5,396.9"/>
<path d="M1163.3,396.7 L1165.0,399.8"/>
<path d="M1161.7,399.8 L1163.4,402.7"/>
<path d="M1160.2,402.9 L1161.9,405.6"/>
<path d="M1158.7,405.9 L1160.4,408.5"/>
</g>
<g class="arr">
<path d="M478.4,413.1 C478.2,412.9 477.4,412.1 477.2,411.7 C477.1,411.2 474.7,410.6 477.5,410.4 C480.3,410.3 487.3,410.0 494.1,410.7 C500.9,411.3 510.2,412.7 518.3,414.3 C526.3,415.9 534.4,417.9 542.4,420.3 C550.4,422.8 558.5,425.8 566.5,428.8 C574.6,431.8 583.8,435.4 590.7,438.4 C597.5,441.5 604.7,445.5 607.6,446.9"/>
<path d="M478.4,413.1 C481.1,413.3 487.5,413.7 494.1,414.5 C500.8,415.4 510.2,416.4 518.3,417.9 C526.3,419.5 534.4,421.5 542.4,423.7 C550.4,425.9 558.5,428.5 566.5,431.2 C574.6,433.9 583.8,437.2 590.7,439.9 C597.5,442.6 604.7,446.3 607.6,447.6"/>
</g>
<g class="arrs">
<path d="M766.7,244.6 C766.3,244.7 765.0,244.8 764.6,245.2 C764.2,245.6 763.6,244.2 764.2,246.9 C764.8,249.6 766.7,256.0 768.1,261.3 C769.4,266.6 771.3,273.0 772.5,278.9 C773.6,284.7 774.4,290.6 775.1,296.4 C775.8,302.3 776.4,308.1 776.8,313.9 C777.3,319.8 777.6,325.6 777.7,331.5 C777.9,337.3 777.9,343.2 777.7,349.0 C777.5,354.9 776.9,361.3 776.5,366.6 C776.1,371.8 775.3,378.3 775.1,380.6"/>
<path d="M766.7,244.6 C767.4,246.8 769.8,252.7 771.2,257.8 C772.6,262.9 774.0,269.5 775.1,275.4 C776.2,281.2 777.0,287.0 777.7,292.9 C778.5,298.7 779.0,304.6 779.5,310.4 C779.9,316.3 780.2,322.1 780.4,328.0 C780.5,333.8 780.6,339.7 780.4,345.5 C780.1,351.4 779.6,357.2 778.9,363.1 C778.3,368.9 776.9,377.7 776.5,380.6"/>
<path d="M1196.4,280.2 C1196.0,280.1 1194.6,279.3 1194.0,279.5 C1193.4,279.7 1193.0,278.9 1192.7,281.6 C1192.3,284.2 1192.2,290.3 1191.8,295.5 C1191.4,300.6 1191.0,306.8 1190.1,312.5 C1189.3,318.1 1188.0,323.8 1186.7,329.5 C1185.4,335.1 1184.0,340.8 1182.5,346.5 C1180.9,352.1 1179.2,358.1 1177.4,363.4 C1175.5,368.8 1173.4,373.9 1171.4,378.7 C1169.4,383.5 1167.6,387.8 1165.5,392.3 C1163.4,396.9 1159.8,403.7 1158.7,405.9"/>
<path d="M1196.4,280.2 C1196.2,282.7 1195.8,289.8 1195.2,295.5 C1194.6,301.1 1194.0,307.9 1193.0,314.2 C1192.0,320.4 1190.6,326.9 1189.3,332.9 C1187.9,338.8 1186.7,344.2 1185.0,349.9 C1183.4,355.5 1181.3,361.5 1179.4,366.8 C1177.5,372.2 1175.7,377.3 1173.6,382.1 C1171.6,386.9 1169.4,391.3 1167.2,395.7 C1165.0,400.1 1161.5,406.3 1160.4,408.5"/>
</g>
<rect x="125" y="904" width="1143" height="1" fill="#9c9c9c"/>
<rect x="125" y="906" width="1143" height="1" fill="#9c9c9c"/>
<g class="lbl"><g transform="translate(359.7,199.1) scale(0.920,1)"><path class="ho" d="M4.9,0.4 L4.9,15.2 M4.6,0.7 L1.6,2.3"/><path class="hi" d="M4.9,0.4 L4.9,15.2 M4.6,0.7 L1.6,2.3"/><path class="sd" d="M1.2,15.5 L8.8,15.5"/></g>
<g transform="translate(371.6,199.1) scale(1.000,1)"><path class="ho" d="M1.7,6.9 C2.8,6.1 3.8,5.8 5,5.8 C7.6,5.8 9,7.8 9,10.6 C9,13.6 7.2,15.6 4.8,15.6 C3.2,15.6 2,15.2 1,14.2"/><path class="hi" d="M1.7,6.9 C2.8,6.1 3.8,5.8 5,5.8 C7.6,5.8 9,7.8 9,10.6 C9,13.6 7.2,15.6 4.8,15.6 C3.2,15.6 2,15.2 1,14.2"/><path class="sd" d="M8.8,1.8 L8.8,0.6 L1.8,0.6 L1.7,6.9"/></g>
<g transform="translate(270.7,259.1) scale(0.920,1)"><path class="ho" d="M4.9,0.4 L4.9,15.2 M4.6,0.7 L1.6,2.3"/><path class="hi" d="M4.9,0.4 L4.9,15.2 M4.6,0.7 L1.6,2.3"/><path class="sd" d="M1.2,15.5 L8.8,15.5"/></g>
<g transform="translate(282.6,259.1) scale(1.160,1)"><path class="ho" d="M5,0.4 C2,0.4 0.9,4 0.9,8 C0.9,12 2,15.6 5,15.6 C8,15.6 9.1,12 9.1,8 C9.1,4 8,0.4 5,0.4Z"/><path class="hi" d="M5,0.4 C2,0.4 0.9,4 0.9,8 C0.9,12 2,15.6 5,15.6 C8,15.6 9.1,12 9.1,8 C9.1,4 8,0.4 5,0.4Z"/></g>
<g transform="translate(706.3,158.2) scale(1.080,1)"><path class="ho" d="M8.4,1.5 C7.6,0.8 6.6,0.4 5.4,0.4 C2.4,0.4 1,3.8 1,8.6 C1,13 2.4,15.6 5,15.6 C7.4,15.6 9,13.8 9,11 C9,8.2 7.4,6.4 5.2,6.4 C3,6.4 1.4,8 1,10"/><path class="hi" d="M8.4,1.5 C7.6,0.8 6.6,0.4 5.4,0.4 C2.4,0.4 1,3.8 1,8.6 C1,13 2.4,15.6 5,15.6 C7.4,15.6 9,13.8 9,11 C9,8.2 7.4,6.4 5.2,6.4 C3,6.4 1.4,8 1,10"/></g>
<g transform="translate(719.8,158.2) scale(1.160,1)"><path class="ho" d="M5,0.4 C2,0.4 0.9,4 0.9,8 C0.9,12 2,15.6 5,15.6 C8,15.6 9.1,12 9.1,8 C9.1,4 8,0.4 5,0.4Z"/><path class="hi" d="M5,0.4 C2,0.4 0.9,4 0.9,8 C0.9,12 2,15.6 5,15.6 C8,15.6 9.1,12 9.1,8 C9.1,4 8,0.4 5,0.4Z"/></g>
<g transform="translate(821.3,200.8) scale(1.000,1)"><path class="ho" d="M1.7,6.9 C2.8,6.1 3.8,5.8 5,5.8 C7.6,5.8 9,7.8 9,10.6 C9,13.6 7.2,15.6 4.8,15.6 C3.2,15.6 2,15.2 1,14.2"/><path class="hi" d="M1.7,6.9 C2.8,6.1 3.8,5.8 5,5.8 C7.6,5.8 9,7.8 9,10.6 C9,13.6 7.2,15.6 4.8,15.6 C3.2,15.6 2,15.2 1,14.2"/><path class="sd" d="M8.8,1.8 L8.8,0.6 L1.8,0.6 L1.7,6.9"/></g>
<g transform="translate(834.0,200.8) scale(1.160,1)"><path class="ho" d="M5,0.4 C2,0.4 0.9,4 0.9,8 C0.9,12 2,15.6 5,15.6 C8,15.6 9.1,12 9.1,8 C9.1,4 8,0.4 5,0.4Z"/><path class="hi" d="M5,0.4 C2,0.4 0.9,4 0.9,8 C0.9,12 2,15.6 5,15.6 C8,15.6 9.1,12 9.1,8 C9.1,4 8,0.4 5,0.4Z"/></g>
<g transform="translate(1177.0,169.2) scale(0.920,1)"><path class="ho" d="M4.9,0.4 L4.9,15.2 M4.6,0.7 L1.6,2.3"/><path class="hi" d="M4.9,0.4 L4.9,15.2 M4.6,0.7 L1.6,2.3"/><path class="sd" d="M1.2,15.5 L8.8,15.5"/></g>
<g transform="translate(1188.9,169.2) scale(1.060,1)"><path class="ho" d="M1.3,3.4 C1.5,1.3 3,0.4 5,0.4 C7.4,0.4 8.8,1.8 8.8,4 C8.8,6 7.6,7.4 5.6,9.6 L1.2,15"/><path class="hi" d="M1.3,3.4 C1.5,1.3 3,0.4 5,0.4 C7.4,0.4 8.8,1.8 8.8,4 C8.8,6 7.6,7.4 5.6,9.6 L1.2,15"/><path class="sd" d="M1,15.5 L9.2,15.5 L9.2,14.4"/></g>
<g transform="translate(1202.2,169.2) scale(1.000,1)"><path class="ho" d="M1.7,6.9 C2.8,6.1 3.8,5.8 5,5.8 C7.6,5.8 9,7.8 9,10.6 C9,13.6 7.2,15.6 4.8,15.6 C3.2,15.6 2,15.2 1,14.2"/><path class="hi" d="M1.7,6.9 C2.8,6.1 3.8,5.8 5,5.8 C7.6,5.8 9,7.8 9,10.6 C9,13.6 7.2,15.6 4.8,15.6 C3.2,15.6 2,15.2 1,14.2"/><path class="sd" d="M8.8,1.8 L8.8,0.6 L1.8,0.6 L1.7,6.9"/></g>
<g transform="translate(1223.7,245.3) scale(0.920,1)"><path class="ho" d="M4.9,0.4 L4.9,15.2 M4.6,0.7 L1.6,2.3"/><path class="hi" d="M4.9,0.4 L4.9,15.2 M4.6,0.7 L1.6,2.3"/><path class="sd" d="M1.2,15.5 L8.8,15.5"/></g>
<g transform="translate(1235.6,245.3) scale(1.060,1)"><path class="ho" d="M1.3,3.4 C1.5,1.3 3,0.4 5,0.4 C7.4,0.4 8.8,1.8 8.8,4 C8.8,6 7.6,7.4 5.6,9.6 L1.2,15"/><path class="hi" d="M1.3,3.4 C1.5,1.3 3,0.4 5,0.4 C7.4,0.4 8.8,1.8 8.8,4 C8.8,6 7.6,7.4 5.6,9.6 L1.2,15"/><path class="sd" d="M1,15.5 L9.2,15.5 L9.2,14.4"/></g>
<g transform="translate(1248.9,245.3) scale(1.160,1)"><path class="ho" d="M5,0.4 C2,0.4 0.9,4 0.9,8 C0.9,12 2,15.6 5,15.6 C8,15.6 9.1,12 9.1,8 C9.1,4 8,0.4 5,0.4Z"/><path class="hi" d="M5,0.4 C2,0.4 0.9,4 0.9,8 C0.9,12 2,15.6 5,15.6 C8,15.6 9.1,12 9.1,8 C9.1,4 8,0.4 5,0.4Z"/></g>
<g transform="translate(169.2,394.9) scale(1.080,1)"><path class="ho" d="M7,15.6 L7,0.6 L0.8,11"/><path class="hi" d="M7,15.6 L7,0.6 L0.8,11"/><path class="sd" d="M0.6,11.3 L9.6,11.3"/></g>
<g transform="translate(182.7,394.9) scale(1.160,1)"><path class="ho" d="M5,0.4 C2,0.4 0.9,4 0.9,8 C0.9,12 2,15.6 5,15.6 C8,15.6 9.1,12 9.1,8 C9.1,4 8,0.4 5,0.4Z"/><path class="hi" d="M5,0.4 C2,0.4 0.9,4 0.9,8 C0.9,12 2,15.6 5,15.6 C8,15.6 9.1,12 9.1,8 C9.1,4 8,0.4 5,0.4Z"/></g>
<g transform="translate(261.0,436.6) scale(1.000,1)"><path class="ho" d="M1.4,1.7 C2.4,0.8 3.6,0.4 5,0.4 C7.2,0.4 8.6,1.6 8.6,3.8 C8.6,6 7,7.4 4.4,7.4 C7.2,7.4 9,9 9,11.4 C9,14 7.2,15.6 4.8,15.6 C3.2,15.6 2,15.2 1,14.2"/><path class="hi" d="M1.4,1.7 C2.4,0.8 3.6,0.4 5,0.4 C7.2,0.4 8.6,1.6 8.6,3.8 C8.6,6 7,7.4 4.4,7.4 C7.2,7.4 9,9 9,11.4 C9,14 7.2,15.6 4.8,15.6 C3.2,15.6 2,15.2 1,14.2"/></g>
<g transform="translate(273.7,436.6) scale(1.160,1)"><path class="ho" d="M5,0.4 C2,0.4 0.9,4 0.9,8 C0.9,12 2,15.6 5,15.6 C8,15.6 9.1,12 9.1,8 C9.1,4 8,0.4 5,0.4Z"/><path class="hi" d="M5,0.4 C2,0.4 0.9,4 0.9,8 C0.9,12 2,15.6 5,15.6 C8,15.6 9.1,12 9.1,8 C9.1,4 8,0.4 5,0.4Z"/></g>
<g transform="translate(437.0,362.6) scale(1.060,1)"><path class="ho" d="M1.3,3.4 C1.5,1.3 3,0.4 5,0.4 C7.4,0.4 8.8,1.8 8.8,4 C8.8,6 7.6,7.4 5.6,9.6 L1.2,15"/><path class="hi" d="M1.3,3.4 C1.5,1.3 3,0.4 5,0.4 C7.4,0.4 8.8,1.8 8.8,4 C8.8,6 7.6,7.4 5.6,9.6 L1.2,15"/><path class="sd" d="M1,15.5 L9.2,15.5 L9.2,14.4"/></g>
<g transform="translate(450.3,362.6) scale(1.160,1)"><path class="ho" d="M5,0.4 C2,0.4 0.9,4 0.9,8 C0.9,12 2,15.6 5,15.6 C8,15.6 9.1,12 9.1,8 C9.1,4 8,0.4 5,0.4Z"/><path class="hi" d="M5,0.4 C2,0.4 0.9,4 0.9,8 C0.9,12 2,15.6 5,15.6 C8,15.6 9.1,12 9.1,8 C9.1,4 8,0.4 5,0.4Z"/></g>
<g transform="translate(582.4,468.2) scale(0.920,1)"><path class="ho" d="M4.9,0.4 L4.9,15.2 M4.6,0.7 L1.6,2.3"/><path class="hi" d="M4.9,0.4 L4.9,15.2 M4.6,0.7 L1.6,2.3"/><path class="sd" d="M1.2,15.5 L8.8,15.5"/></g>
<g transform="translate(594.3,468.2) scale(1.000,1)"><path class="ho" d="M1.7,6.9 C2.8,6.1 3.8,5.8 5,5.8 C7.6,5.8 9,7.8 9,10.6 C9,13.6 7.2,15.6 4.8,15.6 C3.2,15.6 2,15.2 1,14.2"/><path class="hi" d="M1.7,6.9 C2.8,6.1 3.8,5.8 5,5.8 C7.6,5.8 9,7.8 9,10.6 C9,13.6 7.2,15.6 4.8,15.6 C3.2,15.6 2,15.2 1,14.2"/><path class="sd" d="M8.8,1.8 L8.8,0.6 L1.8,0.6 L1.7,6.9"/></g>
<g transform="translate(607.0,468.2) scale(1.160,1)"><path class="ho" d="M5,0.4 C2,0.4 0.9,4 0.9,8 C0.9,12 2,15.6 5,15.6 C8,15.6 9.1,12 9.1,8 C9.1,4 8,0.4 5,0.4Z"/><path class="hi" d="M5,0.4 C2,0.4 0.9,4 0.9,8 C0.9,12 2,15.6 5,15.6 C8,15.6 9.1,12 9.1,8 C9.1,4 8,0.4 5,0.4Z"/></g>
<g transform="translate(541.7,499.2) scale(0.920,1)"><path class="ho" d="M4.9,0.4 L4.9,15.2 M4.6,0.7 L1.6,2.3"/><path class="hi" d="M4.9,0.4 L4.9,15.2 M4.6,0.7 L1.6,2.3"/><path class="sd" d="M1.2,15.5 L8.8,15.5"/></g>
<g transform="translate(553.6,499.2) scale(1.080,1)"><path class="ho" d="M8.4,1.5 C7.6,0.8 6.6,0.4 5.4,0.4 C2.4,0.4 1,3.8 1,8.6 C1,13 2.4,15.6 5,15.6 C7.4,15.6 9,13.8 9,11 C9,8.2 7.4,6.4 5.2,6.4 C3,6.4 1.4,8 1,10"/><path class="hi" d="M8.4,1.5 C7.6,0.8 6.6,0.4 5.4,0.4 C2.4,0.4 1,3.8 1,8.6 C1,13 2.4,15.6 5,15.6 C7.4,15.6 9,13.8 9,11 C9,8.2 7.4,6.4 5.2,6.4 C3,6.4 1.4,8 1,10"/></g>
<g transform="translate(567.1,499.2) scale(1.160,1)"><path class="ho" d="M5,0.4 C2,0.4 0.9,4 0.9,8 C0.9,12 2,15.6 5,15.6 C8,15.6 9.1,12 9.1,8 C9.1,4 8,0.4 5,0.4Z"/><path class="hi" d="M5,0.4 C2,0.4 0.9,4 0.9,8 C0.9,12 2,15.6 5,15.6 C8,15.6 9.1,12 9.1,8 C9.1,4 8,0.4 5,0.4Z"/></g>
<g transform="translate(586.7,578.2) scale(0.920,1)"><path class="ho" d="M4.9,0.4 L4.9,15.2 M4.6,0.7 L1.6,2.3"/><path class="hi" d="M4.9,0.4 L4.9,15.2 M4.6,0.7 L1.6,2.3"/><path class="sd" d="M1.2,15.5 L8.8,15.5"/></g>
<g transform="translate(598.6,578.2) scale(1.080,1)"><path class="ho" d="M7,15.6 L7,0.6 L0.8,11"/><path class="hi" d="M7,15.6 L7,0.6 L0.8,11"/><path class="sd" d="M0.6,11.3 L9.6,11.3"/></g>
<g transform="translate(612.1,578.2) scale(1.160,1)"><path class="ho" d="M5,0.4 C2,0.4 0.9,4 0.9,8 C0.9,12 2,15.6 5,15.6 C8,15.6 9.1,12 9.1,8 C9.1,4 8,0.4 5,0.4Z"/><path class="hi" d="M5,0.4 C2,0.4 0.9,4 0.9,8 C0.9,12 2,15.6 5,15.6 C8,15.6 9.1,12 9.1,8 C9.1,4 8,0.4 5,0.4Z"/></g>
<g transform="translate(511.7,598.2) scale(0.920,1)"><path class="ho" d="M4.9,0.4 L4.9,15.2 M4.6,0.7 L1.6,2.3"/><path class="hi" d="M4.9,0.4 L4.9,15.2 M4.6,0.7 L1.6,2.3"/><path class="sd" d="M1.2,15.5 L8.8,15.5"/></g>
<g transform="translate(523.6,598.2) scale(1.000,1)"><path class="ho" d="M1.4,1.7 C2.4,0.8 3.6,0.4 5,0.4 C7.2,0.4 8.6,1.6 8.6,3.8 C8.6,6 7,7.4 4.4,7.4 C7.2,7.4 9,9 9,11.4 C9,14 7.2,15.6 4.8,15.6 C3.2,15.6 2,15.2 1,14.2"/><path class="hi" d="M1.4,1.7 C2.4,0.8 3.6,0.4 5,0.4 C7.2,0.4 8.6,1.6 8.6,3.8 C8.6,6 7,7.4 4.4,7.4 C7.2,7.4 9,9 9,11.4 C9,14 7.2,15.6 4.8,15.6 C3.2,15.6 2,15.2 1,14.2"/></g>
<g transform="translate(536.3,598.2) scale(1.000,1)"><path class="ho" d="M1.7,6.9 C2.8,6.1 3.8,5.8 5,5.8 C7.6,5.8 9,7.8 9,10.6 C9,13.6 7.2,15.6 4.8,15.6 C3.2,15.6 2,15.2 1,14.2"/><path class="hi" d="M1.7,6.9 C2.8,6.1 3.8,5.8 5,5.8 C7.6,5.8 9,7.8 9,10.6 C9,13.6 7.2,15.6 4.8,15.6 C3.2,15.6 2,15.2 1,14.2"/><path class="sd" d="M8.8,1.8 L8.8,0.6 L1.8,0.6 L1.7,6.9"/></g>
<g transform="translate(756.0,597.6) scale(1.060,1)"><path class="ho" d="M1.3,3.4 C1.5,1.3 3,0.4 5,0.4 C7.4,0.4 8.8,1.8 8.8,4 C8.8,6 7.6,7.4 5.6,9.6 L1.2,15"/><path class="hi" d="M1.3,3.4 C1.5,1.3 3,0.4 5,0.4 C7.4,0.4 8.8,1.8 8.8,4 C8.8,6 7.6,7.4 5.6,9.6 L1.2,15"/><path class="sd" d="M1,15.5 L9.2,15.5 L9.2,14.4"/></g>
<g transform="translate(769.3,597.6) scale(1.000,1)"><path class="ho" d="M1.7,6.9 C2.8,6.1 3.8,5.8 5,5.8 C7.6,5.8 9,7.8 9,10.6 C9,13.6 7.2,15.6 4.8,15.6 C3.2,15.6 2,15.2 1,14.2"/><path class="hi" d="M1.7,6.9 C2.8,6.1 3.8,5.8 5,5.8 C7.6,5.8 9,7.8 9,10.6 C9,13.6 7.2,15.6 4.8,15.6 C3.2,15.6 2,15.2 1,14.2"/><path class="sd" d="M8.8,1.8 L8.8,0.6 L1.8,0.6 L1.7,6.9"/></g>
<g transform="translate(782.0,597.6) scale(1.160,1)"><path class="ho" d="M5,0.4 C2,0.4 0.9,4 0.9,8 C0.9,12 2,15.6 5,15.6 C8,15.6 9.1,12 9.1,8 C9.1,4 8,0.4 5,0.4Z"/><path class="hi" d="M5,0.4 C2,0.4 0.9,4 0.9,8 C0.9,12 2,15.6 5,15.6 C8,15.6 9.1,12 9.1,8 C9.1,4 8,0.4 5,0.4Z"/></g>
<g transform="translate(955.7,325.6) scale(1.080,1)"><path class="ho" d="M1.6,14.5 C2.4,15.2 3.4,15.6 4.6,15.6 C7.6,15.6 9,12.2 9,7.4 C9,3 7.6,0.4 5,0.4 C2.6,0.4 1,2.2 1,5 C1,7.8 2.6,9.6 4.8,9.6 C7,9.6 8.6,8 9,6"/><path class="hi" d="M1.6,14.5 C2.4,15.2 3.4,15.6 4.6,15.6 C7.6,15.6 9,12.2 9,7.4 C9,3 7.6,0.4 5,0.4 C2.6,0.4 1,2.2 1,5 C1,7.8 2.6,9.6 4.8,9.6 C7,9.6 8.6,8 9,6"/></g>
<g transform="translate(969.2,325.6) scale(1.160,1)"><path class="ho" d="M5,0.4 C2,0.4 0.9,4 0.9,8 C0.9,12 2,15.6 5,15.6 C8,15.6 9.1,12 9.1,8 C9.1,4 8,0.4 5,0.4Z"/><path class="hi" d="M5,0.4 C2,0.4 0.9,4 0.9,8 C0.9,12 2,15.6 5,15.6 C8,15.6 9.1,12 9.1,8 C9.1,4 8,0.4 5,0.4Z"/></g>
<g transform="translate(1000.4,312.2) scale(0.920,1)"><path class="ho" d="M4.9,0.4 L4.9,15.2 M4.6,0.7 L1.6,2.3"/><path class="hi" d="M4.9,0.4 L4.9,15.2 M4.6,0.7 L1.6,2.3"/><path class="sd" d="M1.2,15.5 L8.8,15.5"/></g>
<g transform="translate(1012.3,312.2) scale(1.160,1)"><path class="ho" d="M5,0.4 C2,0.4 0.9,4 0.9,8 C0.9,12 2,15.6 5,15.6 C8,15.6 9.1,12 9.1,8 C9.1,4 8,0.4 5,0.4Z"/><path class="hi" d="M5,0.4 C2,0.4 0.9,4 0.9,8 C0.9,12 2,15.6 5,15.6 C8,15.6 9.1,12 9.1,8 C9.1,4 8,0.4 5,0.4Z"/></g>
<g transform="translate(1026.6,312.2) scale(1.160,1)"><path class="ho" d="M5,0.4 C2,0.4 0.9,4 0.9,8 C0.9,12 2,15.6 5,15.6 C8,15.6 9.1,12 9.1,8 C9.1,4 8,0.4 5,0.4Z"/><path class="hi" d="M5,0.4 C2,0.4 0.9,4 0.9,8 C0.9,12 2,15.6 5,15.6 C8,15.6 9.1,12 9.1,8 C9.1,4 8,0.4 5,0.4Z"/></g>
<g transform="translate(1073.9,378.2) scale(1.020,1)"><path class="ho" d="M8.9,1 L3.2,15.6"/><path class="hi" d="M8.9,1 L3.2,15.6"/><path class="sd" d="M0.8,1.8 L0.8,0.6 L9.2,0.6"/></g>
<g transform="translate(1086.8,378.2) scale(1.060,1)"><path class="ho" d="M1.3,3.4 C1.5,1.3 3,0.4 5,0.4 C7.4,0.4 8.8,1.8 8.8,4 C8.8,6 7.6,7.4 5.6,9.6 L1.2,15"/><path class="hi" d="M1.3,3.4 C1.5,1.3 3,0.4 5,0.4 C7.4,0.4 8.8,1.8 8.8,4 C8.8,6 7.6,7.4 5.6,9.6 L1.2,15"/><path class="sd" d="M1,15.5 L9.2,15.5 L9.2,14.4"/></g>
<g transform="translate(1100.1,378.2) scale(1.160,1)"><path class="ho" d="M5,0.4 C2,0.4 0.9,4 0.9,8 C0.9,12 2,15.6 5,15.6 C8,15.6 9.1,12 9.1,8 C9.1,4 8,0.4 5,0.4Z"/><path class="hi" d="M5,0.4 C2,0.4 0.9,4 0.9,8 C0.9,12 2,15.6 5,15.6 C8,15.6 9.1,12 9.1,8 C9.1,4 8,0.4 5,0.4Z"/></g>
<g transform="translate(1107.6,400.8) scale(1.020,1)"><path class="ho" d="M8.9,1 L3.2,15.6"/><path class="hi" d="M8.9,1 L3.2,15.6"/><path class="sd" d="M0.8,1.8 L0.8,0.6 L9.2,0.6"/></g>
<g transform="translate(1120.5,400.8) scale(1.000,1)"><path class="ho" d="M1.4,1.7 C2.4,0.8 3.6,0.4 5,0.4 C7.2,0.4 8.6,1.6 8.6,3.8 C8.6,6 7,7.4 4.4,7.4 C7.2,7.4 9,9 9,11.4 C9,14 7.2,15.6 4.8,15.6 C3.2,15.6 2,15.2 1,14.2"/><path class="hi" d="M1.4,1.7 C2.4,0.8 3.6,0.4 5,0.4 C7.2,0.4 8.6,1.6 8.6,3.8 C8.6,6 7,7.4 4.4,7.4 C7.2,7.4 9,9 9,11.4 C9,14 7.2,15.6 4.8,15.6 C3.2,15.6 2,15.2 1,14.2"/></g>
<g transform="translate(1133.2,400.8) scale(1.160,1)"><path class="ho" d="M5,0.4 C2,0.4 0.9,4 0.9,8 C0.9,12 2,15.6 5,15.6 C8,15.6 9.1,12 9.1,8 C9.1,4 8,0.4 5,0.4Z"/><path class="hi" d="M5,0.4 C2,0.4 0.9,4 0.9,8 C0.9,12 2,15.6 5,15.6 C8,15.6 9.1,12 9.1,8 C9.1,4 8,0.4 5,0.4Z"/></g>
<g transform="translate(1114.7,469.9) scale(1.060,1)"><path class="ho" d="M1.3,3.4 C1.5,1.3 3,0.4 5,0.4 C7.4,0.4 8.8,1.8 8.8,4 C8.8,6 7.6,7.4 5.6,9.6 L1.2,15"/><path class="hi" d="M1.3,3.4 C1.5,1.3 3,0.4 5,0.4 C7.4,0.4 8.8,1.8 8.8,4 C8.8,6 7.6,7.4 5.6,9.6 L1.2,15"/><path class="sd" d="M1,15.5 L9.2,15.5 L9.2,14.4"/></g>
<g transform="translate(1128.0,469.9) scale(1.160,1)"><path class="ho" d="M5,0.4 C2,0.4 0.9,4 0.9,8 C0.9,12 2,15.6 5,15.6 C8,15.6 9.1,12 9.1,8 C9.1,4 8,0.4 5,0.4Z"/><path class="hi" d="M5,0.4 C2,0.4 0.9,4 0.9,8 C0.9,12 2,15.6 5,15.6 C8,15.6 9.1,12 9.1,8 C9.1,4 8,0.4 5,0.4Z"/></g>
<g transform="translate(1142.3,469.9) scale(1.160,1)"><path class="ho" d="M5,0.4 C2,0.4 0.9,4 0.9,8 C0.9,12 2,15.6 5,15.6 C8,15.6 9.1,12 9.1,8 C9.1,4 8,0.4 5,0.4Z"/><path class="hi" d="M5,0.4 C2,0.4 0.9,4 0.9,8 C0.9,12 2,15.6 5,15.6 C8,15.6 9.1,12 9.1,8 C9.1,4 8,0.4 5,0.4Z"/></g>
<g transform="translate(1106.4,514.9) scale(1.060,1)"><path class="ho" d="M1.3,3.4 C1.5,1.3 3,0.4 5,0.4 C7.4,0.4 8.8,1.8 8.8,4 C8.8,6 7.6,7.4 5.6,9.6 L1.2,15"/><path class="hi" d="M1.3,3.4 C1.5,1.3 3,0.4 5,0.4 C7.4,0.4 8.8,1.8 8.8,4 C8.8,6 7.6,7.4 5.6,9.6 L1.2,15"/><path class="sd" d="M1,15.5 L9.2,15.5 L9.2,14.4"/></g>
<g transform="translate(1119.7,514.9) scale(1.160,1)"><path class="ho" d="M5,0.4 C2,0.4 0.9,4 0.9,8 C0.9,12 2,15.6 5,15.6 C8,15.6 9.1,12 9.1,8 C9.1,4 8,0.4 5,0.4Z"/><path class="hi" d="M5,0.4 C2,0.4 0.9,4 0.9,8 C0.9,12 2,15.6 5,15.6 C8,15.6 9.1,12 9.1,8 C9.1,4 8,0.4 5,0.4Z"/></g>
<g transform="translate(1134.0,514.9) scale(1.000,1)"><path class="ho" d="M1.7,6.9 C2.8,6.1 3.8,5.8 5,5.8 C7.6,5.8 9,7.8 9,10.6 C9,13.6 7.2,15.6 4.8,15.6 C3.2,15.6 2,15.2 1,14.2"/><path class="hi" d="M1.7,6.9 C2.8,6.1 3.8,5.8 5,5.8 C7.6,5.8 9,7.8 9,10.6 C9,13.6 7.2,15.6 4.8,15.6 C3.2,15.6 2,15.2 1,14.2"/><path class="sd" d="M8.8,1.8 L8.8,0.6 L1.8,0.6 L1.7,6.9"/></g>
<g transform="translate(1104.7,548.2) scale(1.060,1)"><path class="ho" d="M1.3,3.4 C1.5,1.3 3,0.4 5,0.4 C7.4,0.4 8.8,1.8 8.8,4 C8.8,6 7.6,7.4 5.6,9.6 L1.2,15"/><path class="hi" d="M1.3,3.4 C1.5,1.3 3,0.4 5,0.4 C7.4,0.4 8.8,1.8 8.8,4 C8.8,6 7.6,7.4 5.6,9.6 L1.2,15"/><path class="sd" d="M1,15.5 L9.2,15.5 L9.2,14.4"/></g>
<g transform="translate(1118.0,548.2) scale(1.060,1)"><path class="ho" d="M1.3,3.4 C1.5,1.3 3,0.4 5,0.4 C7.4,0.4 8.8,1.8 8.8,4 C8.8,6 7.6,7.4 5.6,9.6 L1.2,15"/><path class="hi" d="M1.3,3.4 C1.5,1.3 3,0.4 5,0.4 C7.4,0.4 8.8,1.8 8.8,4 C8.8,6 7.6,7.4 5.6,9.6 L1.2,15"/><path class="sd" d="M1,15.5 L9.2,15.5 L9.2,14.4"/></g>
<g transform="translate(1131.3,548.2) scale(1.160,1)"><path class="ho" d="M5,0.4 C2,0.4 0.9,4 0.9,8 C0.9,12 2,15.6 5,15.6 C8,15.6 9.1,12 9.1,8 C9.1,4 8,0.4 5,0.4Z"/><path class="hi" d="M5,0.4 C2,0.4 0.9,4 0.9,8 C0.9,12 2,15.6 5,15.6 C8,15.6 9.1,12 9.1,8 C9.1,4 8,0.4 5,0.4Z"/></g>
<g transform="translate(1181.6,546.6) scale(1.020,1)"><path class="ho" d="M8.9,1 L3.2,15.6"/><path class="hi" d="M8.9,1 L3.2,15.6"/><path class="sd" d="M0.8,1.8 L0.8,0.6 L9.2,0.6"/></g>
<g transform="translate(1194.5,546.6) scale(1.160,1)"><path class="ho" d="M5,0.4 C2,0.4 0.9,4 0.9,8 C0.9,12 2,15.6 5,15.6 C8,15.6 9.1,12 9.1,8 C9.1,4 8,0.4 5,0.4Z"/><path class="hi" d="M5,0.4 C2,0.4 0.9,4 0.9,8 C0.9,12 2,15.6 5,15.6 C8,15.6 9.1,12 9.1,8 C9.1,4 8,0.4 5,0.4Z"/></g>
<g transform="translate(1208.8,546.6) scale(1.160,1)"><path class="ho" d="M5,0.4 C2,0.4 0.9,4 0.9,8 C0.9,12 2,15.6 5,15.6 C8,15.6 9.1,12 9.1,8 C9.1,4 8,0.4 5,0.4Z"/><path class="hi" d="M5,0.4 C2,0.4 0.9,4 0.9,8 C0.9,12 2,15.6 5,15.6 C8,15.6 9.1,12 9.1,8 C9.1,4 8,0.4 5,0.4Z"/></g>
<g transform="translate(1224.2,569.9) scale(1.020,1)"><path class="ho" d="M8.9,1 L3.2,15.6"/><path class="hi" d="M8.9,1 L3.2,15.6"/><path class="sd" d="M0.8,1.8 L0.8,0.6 L9.2,0.6"/></g>
<g transform="translate(1240.3,569.9) scale(0.920,1)"><path class="ho" d="M4.9,0.4 L4.9,15.2 M4.6,0.7 L1.6,2.3"/><path class="hi" d="M4.9,0.4 L4.9,15.2 M4.6,0.7 L1.6,2.3"/><path class="sd" d="M1.2,15.5 L8.8,15.5"/></g>
<g transform="translate(1252.2,569.9) scale(1.160,1)"><path class="ho" d="M5,0.4 C2,0.4 0.9,4 0.9,8 C0.9,12 2,15.6 5,15.6 C8,15.6 9.1,12 9.1,8 C9.1,4 8,0.4 5,0.4Z"/><path class="hi" d="M5,0.4 C2,0.4 0.9,4 0.9,8 C0.9,12 2,15.6 5,15.6 C8,15.6 9.1,12 9.1,8 C9.1,4 8,0.4 5,0.4Z"/></g>
<g transform="translate(938.0,540.6) scale(1.060,1)"><path class="ho" d="M1.3,3.4 C1.5,1.3 3,0.4 5,0.4 C7.4,0.4 8.8,1.8 8.8,4 C8.8,6 7.6,7.4 5.6,9.6 L1.2,15"/><path class="hi" d="M1.3,3.4 C1.5,1.3 3,0.4 5,0.4 C7.4,0.4 8.8,1.8 8.8,4 C8.8,6 7.6,7.4 5.6,9.6 L1.2,15"/><path class="sd" d="M1,15.5 L9.2,15.5 L9.2,14.4"/></g>
<g transform="translate(951.3,540.6) scale(1.000,1)"><path class="ho" d="M1.7,6.9 C2.8,6.1 3.8,5.8 5,5.8 C7.6,5.8 9,7.8 9,10.6 C9,13.6 7.2,15.6 4.8,15.6 C3.2,15.6 2,15.2 1,14.2"/><path class="hi" d="M1.7,6.9 C2.8,6.1 3.8,5.8 5,5.8 C7.6,5.8 9,7.8 9,10.6 C9,13.6 7.2,15.6 4.8,15.6 C3.2,15.6 2,15.2 1,14.2"/><path class="sd" d="M8.8,1.8 L8.8,0.6 L1.8,0.6 L1.7,6.9"/></g>
<g transform="translate(964.0,540.6) scale(1.160,1)"><path class="ho" d="M5,0.4 C2,0.4 0.9,4 0.9,8 C0.9,12 2,15.6 5,15.6 C8,15.6 9.1,12 9.1,8 C9.1,4 8,0.4 5,0.4Z"/><path class="hi" d="M5,0.4 C2,0.4 0.9,4 0.9,8 C0.9,12 2,15.6 5,15.6 C8,15.6 9.1,12 9.1,8 C9.1,4 8,0.4 5,0.4Z"/></g>
<g transform="translate(467.7,652.9) scale(0.920,1)"><path class="ho" d="M4.9,0.4 L4.9,15.2 M4.6,0.7 L1.6,2.3"/><path class="hi" d="M4.9,0.4 L4.9,15.2 M4.6,0.7 L1.6,2.3"/><path class="sd" d="M1.2,15.5 L8.8,15.5"/></g>
<g transform="translate(479.6,652.9) scale(1.000,1)"><path class="ho" d="M1.4,1.7 C2.4,0.8 3.6,0.4 5,0.4 C7.2,0.4 8.6,1.6 8.6,3.8 C8.6,6 7,7.4 4.4,7.4 C7.2,7.4 9,9 9,11.4 C9,14 7.2,15.6 4.8,15.6 C3.2,15.6 2,15.2 1,14.2"/><path class="hi" d="M1.4,1.7 C2.4,0.8 3.6,0.4 5,0.4 C7.2,0.4 8.6,1.6 8.6,3.8 C8.6,6 7,7.4 4.4,7.4 C7.2,7.4 9,9 9,11.4 C9,14 7.2,15.6 4.8,15.6 C3.2,15.6 2,15.2 1,14.2"/></g>
<g transform="translate(492.3,652.9) scale(1.160,1)"><path class="ho" d="M5,0.4 C2,0.4 0.9,4 0.9,8 C0.9,12 2,15.6 5,15.6 C8,15.6 9.1,12 9.1,8 C9.1,4 8,0.4 5,0.4Z"/><path class="hi" d="M5,0.4 C2,0.4 0.9,4 0.9,8 C0.9,12 2,15.6 5,15.6 C8,15.6 9.1,12 9.1,8 C9.1,4 8,0.4 5,0.4Z"/></g>
<g transform="translate(603.7,669.6) scale(1.000,1)"><path class="ho" d="M1.4,1.7 C2.4,0.8 3.6,0.4 5,0.4 C7.2,0.4 8.6,1.6 8.6,3.8 C8.6,6 7,7.4 4.4,7.4 C7.2,7.4 9,9 9,11.4 C9,14 7.2,15.6 4.8,15.6 C3.2,15.6 2,15.2 1,14.2"/><path class="hi" d="M1.4,1.7 C2.4,0.8 3.6,0.4 5,0.4 C7.2,0.4 8.6,1.6 8.6,3.8 C8.6,6 7,7.4 4.4,7.4 C7.2,7.4 9,9 9,11.4 C9,14 7.2,15.6 4.8,15.6 C3.2,15.6 2,15.2 1,14.2"/></g>
<g transform="translate(616.4,669.6) scale(1.160,1)"><path class="ho" d="M5,0.4 C2,0.4 0.9,4 0.9,8 C0.9,12 2,15.6 5,15.6 C8,15.6 9.1,12 9.1,8 C9.1,4 8,0.4 5,0.4Z"/><path class="hi" d="M5,0.4 C2,0.4 0.9,4 0.9,8 C0.9,12 2,15.6 5,15.6 C8,15.6 9.1,12 9.1,8 C9.1,4 8,0.4 5,0.4Z"/></g>
<g transform="translate(630.7,669.6) scale(1.160,1)"><path class="ho" d="M5,0.4 C2,0.4 0.9,4 0.9,8 C0.9,12 2,15.6 5,15.6 C8,15.6 9.1,12 9.1,8 C9.1,4 8,0.4 5,0.4Z"/><path class="hi" d="M5,0.4 C2,0.4 0.9,4 0.9,8 C0.9,12 2,15.6 5,15.6 C8,15.6 9.1,12 9.1,8 C9.1,4 8,0.4 5,0.4Z"/></g>
<g transform="translate(637.0,696.2) scale(1.000,1)"><path class="ho" d="M1.4,1.7 C2.4,0.8 3.6,0.4 5,0.4 C7.2,0.4 8.6,1.6 8.6,3.8 C8.6,6 7,7.4 4.4,7.4 C7.2,7.4 9,9 9,11.4 C9,14 7.2,15.6 4.8,15.6 C3.2,15.6 2,15.2 1,14.2"/><path class="hi" d="M1.4,1.7 C2.4,0.8 3.6,0.4 5,0.4 C7.2,0.4 8.6,1.6 8.6,3.8 C8.6,6 7,7.4 4.4,7.4 C7.2,7.4 9,9 9,11.4 C9,14 7.2,15.6 4.8,15.6 C3.2,15.6 2,15.2 1,14.2"/></g>
<g transform="translate(652.9,696.2) scale(0.920,1)"><path class="ho" d="M4.9,0.4 L4.9,15.2 M4.6,0.7 L1.6,2.3"/><path class="hi" d="M4.9,0.4 L4.9,15.2 M4.6,0.7 L1.6,2.3"/><path class="sd" d="M1.2,15.5 L8.8,15.5"/></g>
<g transform="translate(664.8,696.2) scale(1.160,1)"><path class="ho" d="M5,0.4 C2,0.4 0.9,4 0.9,8 C0.9,12 2,15.6 5,15.6 C8,15.6 9.1,12 9.1,8 C9.1,4 8,0.4 5,0.4Z"/><path class="hi" d="M5,0.4 C2,0.4 0.9,4 0.9,8 C0.9,12 2,15.6 5,15.6 C8,15.6 9.1,12 9.1,8 C9.1,4 8,0.4 5,0.4Z"/></g>
<g transform="translate(789.4,646.2) scale(1.060,1)"><path class="ho" d="M1.3,3.4 C1.5,1.3 3,0.4 5,0.4 C7.4,0.4 8.8,1.8 8.8,4 C8.8,6 7.6,7.4 5.6,9.6 L1.2,15"/><path class="hi" d="M1.3,3.4 C1.5,1.3 3,0.4 5,0.4 C7.4,0.4 8.8,1.8 8.8,4 C8.8,6 7.6,7.4 5.6,9.6 L1.2,15"/><path class="sd" d="M1,15.5 L9.2,15.5 L9.2,14.4"/></g>
<g transform="translate(802.7,646.2) scale(1.060,1)"><path class="ho" d="M1.3,3.4 C1.5,1.3 3,0.4 5,0.4 C7.4,0.4 8.8,1.8 8.8,4 C8.8,6 7.6,7.4 5.6,9.6 L1.2,15"/><path class="hi" d="M1.3,3.4 C1.5,1.3 3,0.4 5,0.4 C7.4,0.4 8.8,1.8 8.8,4 C8.8,6 7.6,7.4 5.6,9.6 L1.2,15"/><path class="sd" d="M1,15.5 L9.2,15.5 L9.2,14.4"/></g>
<g transform="translate(816.0,646.2) scale(1.160,1)"><path class="ho" d="M5,0.4 C2,0.4 0.9,4 0.9,8 C0.9,12 2,15.6 5,15.6 C8,15.6 9.1,12 9.1,8 C9.1,4 8,0.4 5,0.4Z"/><path class="hi" d="M5,0.4 C2,0.4 0.9,4 0.9,8 C0.9,12 2,15.6 5,15.6 C8,15.6 9.1,12 9.1,8 C9.1,4 8,0.4 5,0.4Z"/></g>
<g transform="translate(787.9,704.6) scale(1.020,1)"><path class="ho" d="M8.9,1 L3.2,15.6"/><path class="hi" d="M8.9,1 L3.2,15.6"/><path class="sd" d="M0.8,1.8 L0.8,0.6 L9.2,0.6"/></g>
<g transform="translate(800.8,704.6) scale(1.080,1)"><path class="ho" d="M7,15.6 L7,0.6 L0.8,11"/><path class="hi" d="M7,15.6 L7,0.6 L0.8,11"/><path class="sd" d="M0.6,11.3 L9.6,11.3"/></g>
<g transform="translate(814.3,704.6) scale(1.160,1)"><path class="ho" d="M5,0.4 C2,0.4 0.9,4 0.9,8 C0.9,12 2,15.6 5,15.6 C8,15.6 9.1,12 9.1,8 C9.1,4 8,0.4 5,0.4Z"/><path class="hi" d="M5,0.4 C2,0.4 0.9,4 0.9,8 C0.9,12 2,15.6 5,15.6 C8,15.6 9.1,12 9.1,8 C9.1,4 8,0.4 5,0.4Z"/></g>
<g transform="translate(794.6,738.9) scale(1.020,1)"><path class="ho" d="M8.9,1 L3.2,15.6"/><path class="hi" d="M8.9,1 L3.2,15.6"/><path class="sd" d="M0.8,1.8 L0.8,0.6 L9.2,0.6"/></g>
<g transform="translate(807.5,738.9) scale(1.000,1)"><path class="ho" d="M1.7,6.9 C2.8,6.1 3.8,5.8 5,5.8 C7.6,5.8 9,7.8 9,10.6 C9,13.6 7.2,15.6 4.8,15.6 C3.2,15.6 2,15.2 1,14.2"/><path class="hi" d="M1.7,6.9 C2.8,6.1 3.8,5.8 5,5.8 C7.6,5.8 9,7.8 9,10.6 C9,13.6 7.2,15.6 4.8,15.6 C3.2,15.6 2,15.2 1,14.2"/><path class="sd" d="M8.8,1.8 L8.8,0.6 L1.8,0.6 L1.7,6.9"/></g>
<g transform="translate(820.2,738.9) scale(1.160,1)"><path class="ho" d="M5,0.4 C2,0.4 0.9,4 0.9,8 C0.9,12 2,15.6 5,15.6 C8,15.6 9.1,12 9.1,8 C9.1,4 8,0.4 5,0.4Z"/><path class="hi" d="M5,0.4 C2,0.4 0.9,4 0.9,8 C0.9,12 2,15.6 5,15.6 C8,15.6 9.1,12 9.1,8 C9.1,4 8,0.4 5,0.4Z"/></g>
<g transform="translate(1034.8,622.1) scale(1.020,1)"><path class="ho" d="M8.9,1 L3.2,15.6"/><path class="hi" d="M8.9,1 L3.2,15.6"/><path class="sd" d="M0.8,1.8 L0.8,0.6 L9.2,0.6"/></g>
<g transform="translate(1047.7,622.1) scale(1.080,1)"><path class="ho" d="M8.4,1.5 C7.6,0.8 6.6,0.4 5.4,0.4 C2.4,0.4 1,3.8 1,8.6 C1,13 2.4,15.6 5,15.6 C7.4,15.6 9,13.8 9,11 C9,8.2 7.4,6.4 5.2,6.4 C3,6.4 1.4,8 1,10"/><path class="hi" d="M8.4,1.5 C7.6,0.8 6.6,0.4 5.4,0.4 C2.4,0.4 1,3.8 1,8.6 C1,13 2.4,15.6 5,15.6 C7.4,15.6 9,13.8 9,11 C9,8.2 7.4,6.4 5.2,6.4 C3,6.4 1.4,8 1,10"/></g>
<g transform="translate(1061.2,622.1) scale(1.160,1)"><path class="ho" d="M5,0.4 C2,0.4 0.9,4 0.9,8 C0.9,12 2,15.6 5,15.6 C8,15.6 9.1,12 9.1,8 C9.1,4 8,0.4 5,0.4Z"/><path class="hi" d="M5,0.4 C2,0.4 0.9,4 0.9,8 C0.9,12 2,15.6 5,15.6 C8,15.6 9.1,12 9.1,8 C9.1,4 8,0.4 5,0.4Z"/></g>
<g transform="translate(1040.5,655.0) scale(1.020,1)"><path class="ho" d="M8.9,1 L3.2,15.6"/><path class="hi" d="M8.9,1 L3.2,15.6"/><path class="sd" d="M0.8,1.8 L0.8,0.6 L9.2,0.6"/></g>
<g transform="translate(1053.4,655.0) scale(1.020,1)"><path class="ho" d="M8.9,1 L3.2,15.6"/><path class="hi" d="M8.9,1 L3.2,15.6"/><path class="sd" d="M0.8,1.8 L0.8,0.6 L9.2,0.6"/></g>
<g transform="translate(1066.3,655.0) scale(1.160,1)"><path class="ho" d="M5,0.4 C2,0.4 0.9,4 0.9,8 C0.9,12 2,15.6 5,15.6 C8,15.6 9.1,12 9.1,8 C9.1,4 8,0.4 5,0.4Z"/><path class="hi" d="M5,0.4 C2,0.4 0.9,4 0.9,8 C0.9,12 2,15.6 5,15.6 C8,15.6 9.1,12 9.1,8 C9.1,4 8,0.4 5,0.4Z"/></g></g>
<path fill="#ff0000" fill-rule="evenodd" d="M1033,647H1088V680H1033Z M1039,652V675H1082V652Z"/>
</svg></body></html>
